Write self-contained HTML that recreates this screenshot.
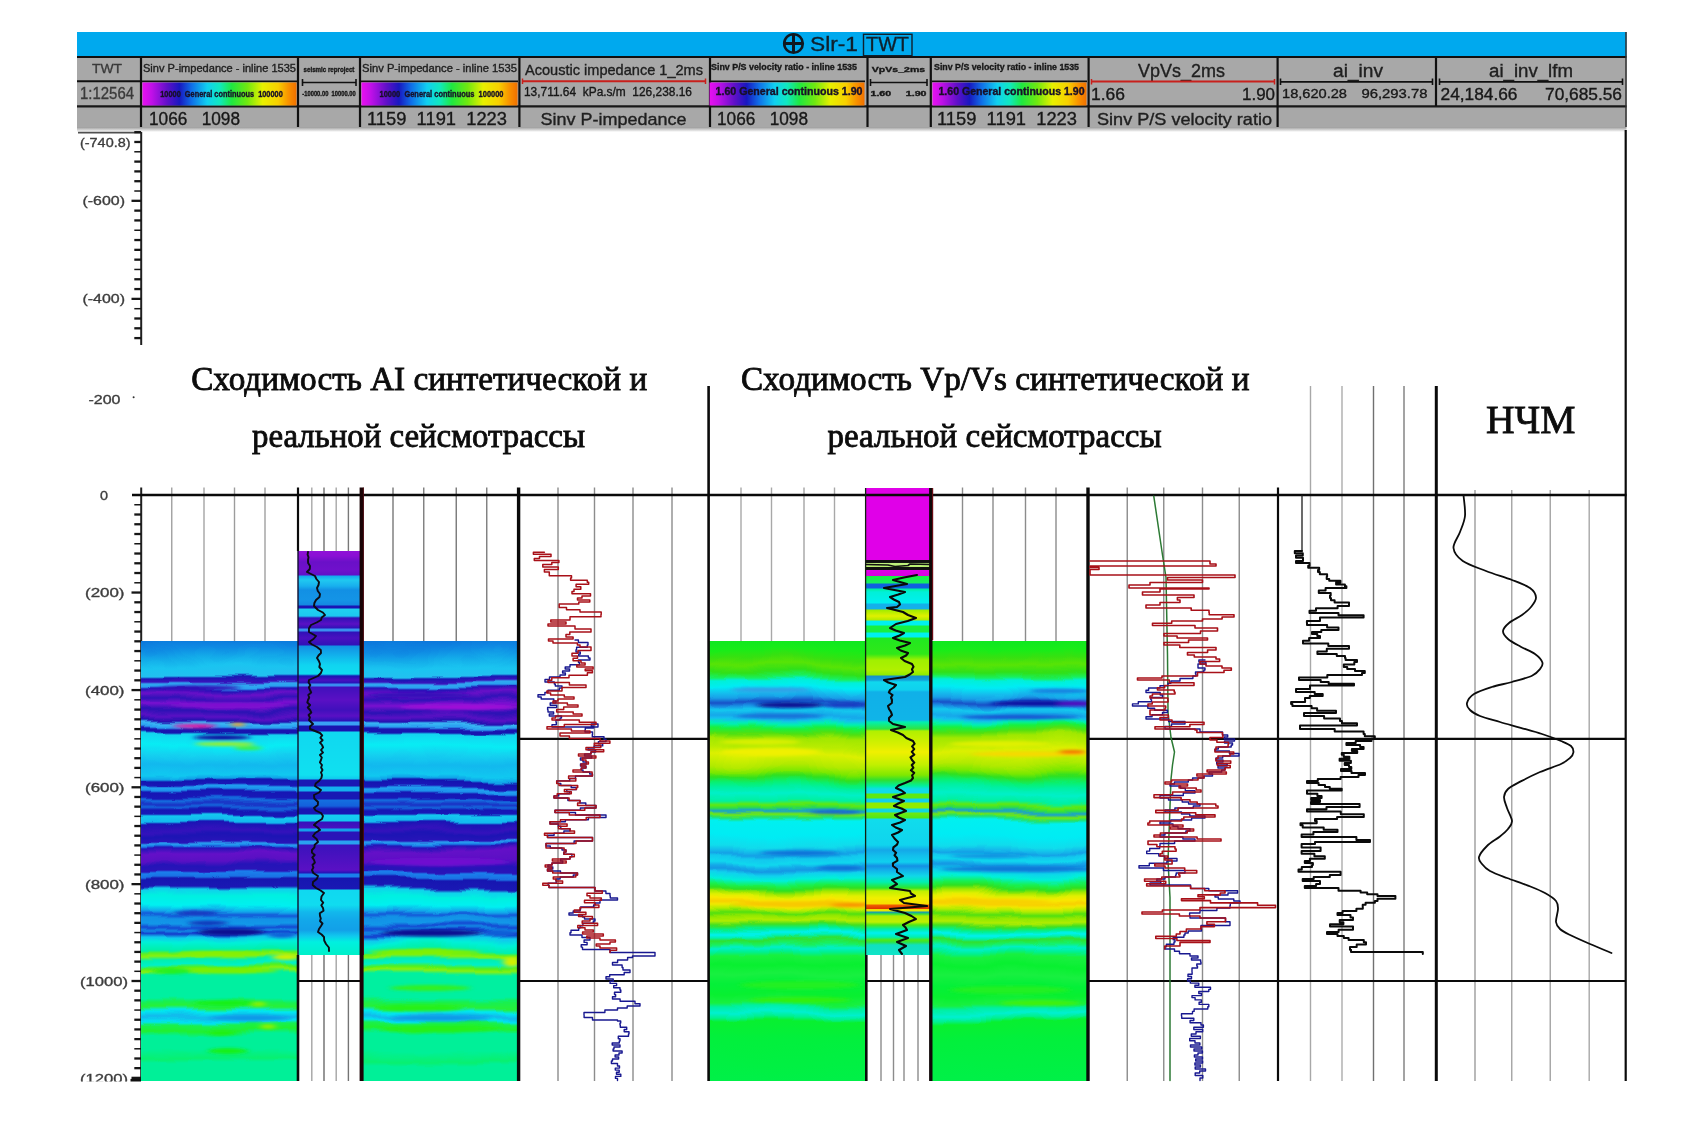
<!DOCTYPE html>
<html lang="ru">
<head>
<meta charset="utf-8">
<title>Slr-1 [TWT]</title>
<style>
html,body{margin:0;padding:0;background:#fff;}
body{width:1707px;height:1139px;overflow:hidden;position:relative;font-family:"Liberation Sans",sans-serif;}
svg{position:absolute;left:0;top:0;display:block;filter:blur(0.45px);}
text{white-space:pre;}
</style>
</head>
<body>
<svg width="1707" height="1139" viewBox="0 0 1707 1139">
<defs>
<linearGradient id="rb" x1="0" y1="0" x2="1" y2="0"><stop offset="0" stop-color="#e810f0"/><stop offset="0.06" stop-color="#c010e8"/><stop offset="0.16" stop-color="#6010c8"/><stop offset="0.24" stop-color="#1818c0"/><stop offset="0.32" stop-color="#1070e8"/><stop offset="0.42" stop-color="#10d0f0"/><stop offset="0.50" stop-color="#10e8c0"/><stop offset="0.58" stop-color="#20e840"/><stop offset="0.68" stop-color="#70e810"/><stop offset="0.78" stop-color="#e8f000"/><stop offset="0.88" stop-color="#f8d000"/><stop offset="0.95" stop-color="#f89000"/><stop offset="1" stop-color="#f07000"/></linearGradient>
<linearGradient id="hsh" x1="0" y1="0" x2="0" y2="1"><stop offset="0" stop-color="#9a9a9a"/><stop offset="1" stop-color="#ffffff"/></linearGradient>
<linearGradient id="gAI" gradientUnits="userSpaceOnUse" x1="0" y1="641" x2="0" y2="1081.0"><stop offset="0.0000" stop-color="#0c78dc"/><stop offset="0.0205" stop-color="#0f8ce4"/><stop offset="0.0432" stop-color="#14aeea"/><stop offset="0.0614" stop-color="#1ac4f0"/><stop offset="0.0795" stop-color="#22c0f0"/><stop offset="0.0841" stop-color="#1818b4"/><stop offset="0.0932" stop-color="#3a12bc"/><stop offset="0.0977" stop-color="#30a8f0"/><stop offset="0.1045" stop-color="#2aa0f0"/><stop offset="0.1091" stop-color="#2414b8"/><stop offset="0.1205" stop-color="#6a10c8"/><stop offset="0.1341" stop-color="#3012b8"/><stop offset="0.1477" stop-color="#7a10d0"/><stop offset="0.1614" stop-color="#2a12b4"/><stop offset="0.1750" stop-color="#5a10c4"/><stop offset="0.1841" stop-color="#2212b0"/><stop offset="0.1886" stop-color="#38b8f4"/><stop offset="0.1955" stop-color="#2a9cf0"/><stop offset="0.2000" stop-color="#1a14b0"/><stop offset="0.2068" stop-color="#1616b0"/><stop offset="0.2114" stop-color="#14d4f0"/><stop offset="0.2364" stop-color="#08ecf4"/><stop offset="0.2591" stop-color="#14d0f0"/><stop offset="0.2818" stop-color="#12b8ee"/><stop offset="0.3045" stop-color="#10c8f0"/><stop offset="0.3136" stop-color="#10a0e8"/><stop offset="0.3182" stop-color="#1414b0"/><stop offset="0.3295" stop-color="#1a18b8"/><stop offset="0.3341" stop-color="#20a0f0"/><stop offset="0.3409" stop-color="#1c90ec"/><stop offset="0.3455" stop-color="#1616b4"/><stop offset="0.3568" stop-color="#1818b8"/><stop offset="0.3614" stop-color="#1470e0"/><stop offset="0.3705" stop-color="#1a30c4"/><stop offset="0.3773" stop-color="#1466dc"/><stop offset="0.3841" stop-color="#1616b4"/><stop offset="0.3932" stop-color="#1818b8"/><stop offset="0.3977" stop-color="#14c8f0"/><stop offset="0.4091" stop-color="#12b8ee"/><stop offset="0.4136" stop-color="#1a14b4"/><stop offset="0.4295" stop-color="#3412bc"/><stop offset="0.4386" stop-color="#1c14b4"/><stop offset="0.4523" stop-color="#2814b8"/><stop offset="0.4568" stop-color="#2aa0f0"/><stop offset="0.4614" stop-color="#1a80e8"/><stop offset="0.4659" stop-color="#2414b8"/><stop offset="0.4795" stop-color="#6410c8"/><stop offset="0.4977" stop-color="#5a10c4"/><stop offset="0.5114" stop-color="#2414b8"/><stop offset="0.5250" stop-color="#2a14b8"/><stop offset="0.5295" stop-color="#1a80ec"/><stop offset="0.5386" stop-color="#1a70e4"/><stop offset="0.5432" stop-color="#1616b0"/><stop offset="0.5614" stop-color="#1a18b4"/><stop offset="0.5682" stop-color="#10d0ec"/><stop offset="0.5818" stop-color="#00f0e0"/><stop offset="0.6000" stop-color="#00f0f0"/><stop offset="0.6136" stop-color="#12a4ea"/><stop offset="0.6205" stop-color="#1458d8"/><stop offset="0.6273" stop-color="#1290e6"/><stop offset="0.6386" stop-color="#1298e8"/><stop offset="0.6477" stop-color="#1448d2"/><stop offset="0.6545" stop-color="#1288e4"/><stop offset="0.6614" stop-color="#1438cc"/><stop offset="0.6705" stop-color="#10c8ee"/><stop offset="0.6841" stop-color="#00f0d8"/><stop offset="0.7023" stop-color="#00f0a8"/><stop offset="0.7091" stop-color="#60f020"/><stop offset="0.7159" stop-color="#88f010"/><stop offset="0.7250" stop-color="#00f0b0"/><stop offset="0.7364" stop-color="#00f0c8"/><stop offset="0.7455" stop-color="#50f020"/><stop offset="0.7523" stop-color="#88f010"/><stop offset="0.7614" stop-color="#00f0a0"/><stop offset="0.7818" stop-color="#00f0a0"/><stop offset="0.8114" stop-color="#00f0a0"/><stop offset="0.8205" stop-color="#18f050"/><stop offset="0.8295" stop-color="#28f038"/><stop offset="0.8386" stop-color="#00e8f0"/><stop offset="0.8500" stop-color="#12b8ec"/><stop offset="0.8591" stop-color="#00e4f0"/><stop offset="0.8659" stop-color="#18f050"/><stop offset="0.8795" stop-color="#20f030"/><stop offset="0.8932" stop-color="#00f098"/><stop offset="0.9295" stop-color="#00f098"/><stop offset="0.9523" stop-color="#08f070"/><stop offset="0.9614" stop-color="#00f098"/><stop offset="1.0000" stop-color="#00f098"/></linearGradient>
<linearGradient id="gVP" gradientUnits="userSpaceOnUse" x1="0" y1="641" x2="0" y2="1081.0"><stop offset="0.0000" stop-color="#10e820"/><stop offset="0.0205" stop-color="#18ec18"/><stop offset="0.0386" stop-color="#38e010"/><stop offset="0.0545" stop-color="#58e406"/><stop offset="0.0705" stop-color="#30e018"/><stop offset="0.0818" stop-color="#18f060"/><stop offset="0.0886" stop-color="#00f0d8"/><stop offset="0.1023" stop-color="#00ecf4"/><stop offset="0.1159" stop-color="#14c0ee"/><stop offset="0.1273" stop-color="#18a0e8"/><stop offset="0.1386" stop-color="#1850c8"/><stop offset="0.1477" stop-color="#1890e4"/><stop offset="0.1568" stop-color="#14c8ee"/><stop offset="0.1705" stop-color="#16a8ea"/><stop offset="0.1773" stop-color="#14c0ee"/><stop offset="0.1864" stop-color="#00f0b0"/><stop offset="0.1955" stop-color="#18f040"/><stop offset="0.2068" stop-color="#50e010"/><stop offset="0.2182" stop-color="#a0e800"/><stop offset="0.2364" stop-color="#b8ec00"/><stop offset="0.2523" stop-color="#dcf000"/><stop offset="0.2659" stop-color="#c8ee00"/><stop offset="0.2818" stop-color="#b0ea00"/><stop offset="0.2977" stop-color="#78e800"/><stop offset="0.3091" stop-color="#30e020"/><stop offset="0.3227" stop-color="#08f070"/><stop offset="0.3341" stop-color="#00f0a0"/><stop offset="0.3500" stop-color="#00f0c8"/><stop offset="0.3659" stop-color="#00f0a0"/><stop offset="0.3750" stop-color="#60e810"/><stop offset="0.3818" stop-color="#30e040"/><stop offset="0.3886" stop-color="#18a0d0"/><stop offset="0.3955" stop-color="#70e810"/><stop offset="0.4023" stop-color="#20e070"/><stop offset="0.4091" stop-color="#00f0f0"/><stop offset="0.4409" stop-color="#00ecf4"/><stop offset="0.4636" stop-color="#10dcec"/><stop offset="0.4750" stop-color="#14b8ea"/><stop offset="0.4818" stop-color="#14a0e6"/><stop offset="0.4886" stop-color="#12c8ee"/><stop offset="0.5000" stop-color="#10d8ee"/><stop offset="0.5091" stop-color="#14a8e8"/><stop offset="0.5159" stop-color="#1498e4"/><stop offset="0.5250" stop-color="#10d0ee"/><stop offset="0.5386" stop-color="#00f0d8"/><stop offset="0.5523" stop-color="#18f050"/><stop offset="0.5614" stop-color="#30e020"/><stop offset="0.5705" stop-color="#a0e800"/><stop offset="0.5795" stop-color="#e0f000"/><stop offset="0.5886" stop-color="#f8e800"/><stop offset="0.5977" stop-color="#f8d000"/><stop offset="0.6045" stop-color="#f0e800"/><stop offset="0.6136" stop-color="#b0ec00"/><stop offset="0.6227" stop-color="#50e010"/><stop offset="0.6295" stop-color="#90e800"/><stop offset="0.6386" stop-color="#b0ec00"/><stop offset="0.6477" stop-color="#40e020"/><stop offset="0.6568" stop-color="#00f090"/><stop offset="0.6659" stop-color="#00f0f0"/><stop offset="0.6727" stop-color="#00f0b0"/><stop offset="0.6795" stop-color="#30e030"/><stop offset="0.6886" stop-color="#18f060"/><stop offset="0.6977" stop-color="#00f0c8"/><stop offset="0.7068" stop-color="#00f090"/><stop offset="0.7159" stop-color="#18f040"/><stop offset="0.7364" stop-color="#08f030"/><stop offset="0.7591" stop-color="#18f040"/><stop offset="0.7818" stop-color="#04f038"/><stop offset="0.8045" stop-color="#08f030"/><stop offset="0.8227" stop-color="#18f040"/><stop offset="0.8318" stop-color="#00f0a0"/><stop offset="0.8455" stop-color="#00f0d0"/><stop offset="0.8568" stop-color="#00f090"/><stop offset="0.8659" stop-color="#08f030"/><stop offset="0.9068" stop-color="#02f03c"/><stop offset="1.0000" stop-color="#00f048"/></linearGradient>
<linearGradient id="gW3" gradientUnits="userSpaceOnUse" x1="0" y1="551" x2="0" y2="955"><stop offset="0.0000" stop-color="#9010d8"/><stop offset="0.0124" stop-color="#8a10d4"/><stop offset="0.0272" stop-color="#6a10c8"/><stop offset="0.0470" stop-color="#7010cc"/><stop offset="0.0594" stop-color="#6010c8"/><stop offset="0.0619" stop-color="#14a8ee"/><stop offset="0.0718" stop-color="#20c8f0"/><stop offset="0.0866" stop-color="#18b0ee"/><stop offset="0.0965" stop-color="#1290e4"/><stop offset="0.1213" stop-color="#1494e6"/><stop offset="0.1337" stop-color="#1488e2"/><stop offset="0.1361" stop-color="#1a14b4"/><stop offset="0.1411" stop-color="#1a14b4"/><stop offset="0.1436" stop-color="#20d0f0"/><stop offset="0.1609" stop-color="#1cc8f0"/><stop offset="0.1658" stop-color="#3012b8"/><stop offset="0.1807" stop-color="#5a10c4"/><stop offset="0.1906" stop-color="#3012b8"/><stop offset="0.1931" stop-color="#3a90f0"/><stop offset="0.1980" stop-color="#3a90f0"/><stop offset="0.2005" stop-color="#3012b8"/><stop offset="0.2153" stop-color="#4a10c0"/><stop offset="0.2327" stop-color="#3012b8"/><stop offset="0.2351" stop-color="#1290e4"/><stop offset="0.2574" stop-color="#12b0ec"/><stop offset="0.2822" stop-color="#10d4f0"/><stop offset="0.3045" stop-color="#10dcf0"/><stop offset="0.3094" stop-color="#1a14b4"/><stop offset="0.3193" stop-color="#4a10c0"/><stop offset="0.3267" stop-color="#2a12b8"/><stop offset="0.3292" stop-color="#3a8cf0"/><stop offset="0.3342" stop-color="#3a8cf0"/><stop offset="0.3366" stop-color="#4010bc"/><stop offset="0.3688" stop-color="#5a10c4"/><stop offset="0.3936" stop-color="#4010bc"/><stop offset="0.4084" stop-color="#5a10c4"/><stop offset="0.4208" stop-color="#2a12b8"/><stop offset="0.4233" stop-color="#3aa0f4"/><stop offset="0.4307" stop-color="#3aa0f4"/><stop offset="0.4332" stop-color="#1a14b0"/><stop offset="0.4455" stop-color="#1a14b0"/><stop offset="0.4480" stop-color="#10d8f0"/><stop offset="0.5545" stop-color="#10e0f0"/><stop offset="0.5644" stop-color="#10c8ee"/><stop offset="0.5668" stop-color="#1a18b4"/><stop offset="0.5817" stop-color="#1a18b4"/><stop offset="0.5842" stop-color="#14b0ee"/><stop offset="0.5941" stop-color="#14b0ee"/><stop offset="0.5965" stop-color="#1818b4"/><stop offset="0.6139" stop-color="#1818b4"/><stop offset="0.6163" stop-color="#1470e0"/><stop offset="0.6312" stop-color="#1460dc"/><stop offset="0.6386" stop-color="#1818b4"/><stop offset="0.6510" stop-color="#1818b4"/><stop offset="0.6535" stop-color="#14d0f0"/><stop offset="0.6683" stop-color="#14c8f0"/><stop offset="0.6708" stop-color="#3412bc"/><stop offset="0.6856" stop-color="#4a10c0"/><stop offset="0.6881" stop-color="#14a0ec"/><stop offset="0.6931" stop-color="#14a0ec"/><stop offset="0.6955" stop-color="#2a14b8"/><stop offset="0.7153" stop-color="#2a14b8"/><stop offset="0.7178" stop-color="#2aa0f0"/><stop offset="0.7252" stop-color="#2aa0f0"/><stop offset="0.7277" stop-color="#3a12bc"/><stop offset="0.7896" stop-color="#5a10c4"/><stop offset="0.7970" stop-color="#2414b8"/><stop offset="0.7995" stop-color="#1a80ec"/><stop offset="0.8069" stop-color="#1a80ec"/><stop offset="0.8094" stop-color="#1616b0"/><stop offset="0.8366" stop-color="#1a18b4"/><stop offset="0.8391" stop-color="#10d8f0"/><stop offset="0.8762" stop-color="#10dcf0"/><stop offset="0.8936" stop-color="#12b8ec"/><stop offset="0.9134" stop-color="#12a8ea"/><stop offset="0.9381" stop-color="#12a0e8"/><stop offset="0.9530" stop-color="#10c8ee"/><stop offset="0.9678" stop-color="#00f0e0"/><stop offset="1.0000" stop-color="#00f0c8"/></linearGradient>
<linearGradient id="gW7" gradientUnits="userSpaceOnUse" x1="0" y1="488" x2="0" y2="955"><stop offset="0.0000" stop-color="#e000e8"/><stop offset="0.1542" stop-color="#e000e8"/><stop offset="0.1552" stop-color="#101010"/><stop offset="0.1595" stop-color="#101010"/><stop offset="0.1606" stop-color="#c0f080"/><stop offset="0.1681" stop-color="#b8f070"/><stop offset="0.1692" stop-color="#101010"/><stop offset="0.1745" stop-color="#101010"/><stop offset="0.1756" stop-color="#e000e8"/><stop offset="0.1874" stop-color="#d800e0"/><stop offset="0.1884" stop-color="#18f040"/><stop offset="0.2034" stop-color="#18f060"/><stop offset="0.2056" stop-color="#1060e0"/><stop offset="0.2141" stop-color="#1060e0"/><stop offset="0.2163" stop-color="#00f0a0"/><stop offset="0.2227" stop-color="#00f0d8"/><stop offset="0.2463" stop-color="#00f0f0"/><stop offset="0.2484" stop-color="#14b0ea"/><stop offset="0.2591" stop-color="#14b0ea"/><stop offset="0.2612" stop-color="#a0ec00"/><stop offset="0.2741" stop-color="#e0f000"/><stop offset="0.2827" stop-color="#b0ec00"/><stop offset="0.2848" stop-color="#00f0f0"/><stop offset="0.2934" stop-color="#00f0f0"/><stop offset="0.2955" stop-color="#18f040"/><stop offset="0.3084" stop-color="#18f040"/><stop offset="0.3105" stop-color="#00f0f0"/><stop offset="0.3191" stop-color="#00f0f0"/><stop offset="0.3212" stop-color="#20e820"/><stop offset="0.3555" stop-color="#30e818"/><stop offset="0.3683" stop-color="#a0f000"/><stop offset="0.3897" stop-color="#b0f000"/><stop offset="0.4004" stop-color="#90ec00"/><stop offset="0.4026" stop-color="#1490c8"/><stop offset="0.4111" stop-color="#14a0d8"/><stop offset="0.4154" stop-color="#10d8ee"/><stop offset="0.4325" stop-color="#10d0ee"/><stop offset="0.4368" stop-color="#10b0e8"/><stop offset="0.4968" stop-color="#10b4e8"/><stop offset="0.5011" stop-color="#00f0b0"/><stop offset="0.5161" stop-color="#30e440"/><stop offset="0.5203" stop-color="#b0f000"/><stop offset="0.5503" stop-color="#d8f000"/><stop offset="0.5653" stop-color="#f0f000"/><stop offset="0.5931" stop-color="#c0f000"/><stop offset="0.6146" stop-color="#80e800"/><stop offset="0.6253" stop-color="#30e030"/><stop offset="0.6381" stop-color="#00f0a0"/><stop offset="0.6445" stop-color="#10dce8"/><stop offset="0.6531" stop-color="#10dce8"/><stop offset="0.6552" stop-color="#60e810"/><stop offset="0.6638" stop-color="#60e810"/><stop offset="0.6660" stop-color="#10d0ee"/><stop offset="0.6724" stop-color="#10d0ee"/><stop offset="0.6745" stop-color="#90ec00"/><stop offset="0.6852" stop-color="#90ec00"/><stop offset="0.6874" stop-color="#10d8e0"/><stop offset="0.6938" stop-color="#10d8e0"/><stop offset="0.6959" stop-color="#70e810"/><stop offset="0.7066" stop-color="#50e818"/><stop offset="0.7088" stop-color="#10dcec"/><stop offset="0.7645" stop-color="#10d4ee"/><stop offset="0.7752" stop-color="#14a8e8"/><stop offset="0.7880" stop-color="#12c0ec"/><stop offset="0.8009" stop-color="#10d0ee"/><stop offset="0.8094" stop-color="#1490e4"/><stop offset="0.8180" stop-color="#12b0ea"/><stop offset="0.8308" stop-color="#10d8e8"/><stop offset="0.8437" stop-color="#00f0b0"/><stop offset="0.8565" stop-color="#30e428"/><stop offset="0.8630" stop-color="#c0f000"/><stop offset="0.8779" stop-color="#f0f000"/><stop offset="0.8908" stop-color="#f8e000"/><stop offset="0.8929" stop-color="#f06000"/><stop offset="0.9004" stop-color="#e03800"/><stop offset="0.9026" stop-color="#f0e000"/><stop offset="0.9058" stop-color="#e0f000"/><stop offset="0.9079" stop-color="#1890c0"/><stop offset="0.9122" stop-color="#30e040"/><stop offset="0.9165" stop-color="#b0ec00"/><stop offset="0.9293" stop-color="#c0f000"/><stop offset="0.9358" stop-color="#50e818"/><stop offset="0.9443" stop-color="#00f0a0"/><stop offset="0.9529" stop-color="#00f0f0"/><stop offset="0.9615" stop-color="#00f0b0"/><stop offset="0.9679" stop-color="#50e818"/><stop offset="0.9722" stop-color="#30e440"/><stop offset="0.9786" stop-color="#10e0c0"/><stop offset="1.0000" stop-color="#10e4c8"/></linearGradient>
<filter id="wv1" x="-5%" y="-5%" width="110%" height="110%" color-interpolation-filters="sRGB"><feTurbulence type="fractalNoise" baseFrequency="0.013 0.022" numOctaves="3" seed="3" result="n"/><feColorMatrix in="n" type="matrix" values="0 0 0 0 0.5  0 1 0 0 0  0 0 1 0 0  0 0 0 0 1" result="m"/><feDisplacementMap in="SourceGraphic" in2="m" scale="14" xChannelSelector="R" yChannelSelector="G"/><feGaussianBlur stdDeviation="0.7 0.5"/></filter>
<filter id="wv2" x="-5%" y="-5%" width="110%" height="110%" color-interpolation-filters="sRGB"><feTurbulence type="fractalNoise" baseFrequency="0.011 0.018" numOctaves="3" seed="8" result="n"/><feColorMatrix in="n" type="matrix" values="0 0 0 0 0.5  0 1 0 0 0  0 0 1 0 0  0 0 0 0 1" result="m"/><feDisplacementMap in="SourceGraphic" in2="m" scale="15" xChannelSelector="R" yChannelSelector="G"/><feGaussianBlur stdDeviation="0.7 0.5"/></filter>
<filter id="lb" x="-30%" y="-200%" width="160%" height="500%"><feGaussianBlur stdDeviation="3.2 1.5"/></filter>
<clipPath id="cA1"><rect x="141" y="641" width="157" height="440.0"/></clipPath>
<clipPath id="cA2"><rect x="362" y="641" width="156" height="440.0"/></clipPath>
<clipPath id="cV1"><rect x="709" y="641" width="157" height="440.0"/></clipPath>
<clipPath id="cV2"><rect x="932" y="641" width="155" height="440.0"/></clipPath>
</defs>
<rect x="77.00" y="32.00" width="1549.50" height="24.50" fill="#00a9ee" />
<line x1="77.00" y1="57.00" x2="1626.50" y2="57.00" stroke="#101010" stroke-width="2" />
<rect x="77.00" y="58.00" width="1549.50" height="69.00" fill="#a8a8a8" />
<rect x="77.00" y="127.00" width="1549.50" height="5.00" fill="url(#hsh)" />
<g stroke="#101820" fill="none"><circle cx="793.5" cy="43.5" r="9.3" stroke-width="2.6"/><line x1="784" y1="43.5" x2="803" y2="43.5" stroke-width="3"/><line x1="793.5" y1="34" x2="793.5" y2="53" stroke-width="3"/></g>
<text x="810.00" y="51.00" font-family="'Liberation Sans', sans-serif" font-size="21" fill="#10202c" text-anchor="start" font-weight="normal" style="white-space:pre" textLength="48.0" lengthAdjust="spacingAndGlyphs"  stroke="#10202c" stroke-width="0.35">Slr-1</text>
<rect x="863.50" y="34.30" width="48.50" height="21.40" fill="none" stroke="#10202c" stroke-width="1.4"/>
<text x="866.00" y="50.80" font-family="'Liberation Sans', sans-serif" font-size="19.5" fill="#10202c" text-anchor="start" font-weight="normal" style="white-space:pre" textLength="43.0" lengthAdjust="spacingAndGlyphs"  stroke="#10202c" stroke-width="0.35">TWT</text>
<line x1="77.00" y1="81.30" x2="141.00" y2="81.30" stroke="#101010" stroke-width="2" />
<line x1="77.00" y1="106.30" x2="1626.50" y2="106.30" stroke="#181818" stroke-width="2.2" />
<line x1="141.00" y1="58.00" x2="141.00" y2="127.00" stroke="#101010" stroke-width="2.2" />
<line x1="298.00" y1="58.00" x2="298.00" y2="127.00" stroke="#101010" stroke-width="2.2" />
<line x1="360.00" y1="58.00" x2="360.00" y2="127.00" stroke="#101010" stroke-width="2.2" />
<line x1="519.40" y1="58.00" x2="519.40" y2="127.00" stroke="#101010" stroke-width="2.2" />
<line x1="710.00" y1="58.00" x2="710.00" y2="127.00" stroke="#101010" stroke-width="2.2" />
<line x1="867.50" y1="58.00" x2="867.50" y2="127.00" stroke="#101010" stroke-width="2.2" />
<line x1="930.80" y1="58.00" x2="930.80" y2="127.00" stroke="#101010" stroke-width="2.2" />
<line x1="1088.60" y1="58.00" x2="1088.60" y2="127.00" stroke="#101010" stroke-width="2.2" />
<line x1="1277.60" y1="58.00" x2="1277.60" y2="127.00" stroke="#101010" stroke-width="2.2" />
<line x1="1436.00" y1="58.00" x2="1436.00" y2="106.00" stroke="#101010" stroke-width="2.2" />
<line x1="1626.00" y1="32.00" x2="1626.00" y2="127.00" stroke="#303030" stroke-width="1.5" />
<text x="107.00" y="73.20" font-family="'Liberation Sans', sans-serif" font-size="13.5" fill="#3a3a3a" text-anchor="middle" font-weight="normal" style="white-space:pre" textLength="30.0" lengthAdjust="spacingAndGlyphs"  stroke="#3a3a3a" stroke-width="0.35">TWT</text>
<text x="107.00" y="99.20" font-family="'Liberation Sans', sans-serif" font-size="16" fill="#3a3a3a" text-anchor="middle" font-weight="normal" style="white-space:pre" textLength="54.0" lengthAdjust="spacingAndGlyphs"  stroke="#3a3a3a" stroke-width="0.35">1:12564</text>
<text x="143.00" y="71.60" font-family="'Liberation Sans', sans-serif" font-size="10.8" fill="#202020" text-anchor="start" font-weight="normal" style="white-space:pre" textLength="153.0" lengthAdjust="spacingAndGlyphs"  stroke="#202020" stroke-width="0.35">Sinv P-impedance - inline 1535</text>
<line x1="142.00" y1="81.30" x2="297.00" y2="81.30" stroke="#101010" stroke-width="1.8" />
<rect x="142.50" y="82.50" width="154.00" height="23.00" fill="url(#rb)" />
<text x="221.50" y="96.50" font-family="'Liberation Sans', sans-serif" font-size="8.5" fill="#181028" text-anchor="middle" font-weight="bold" style="white-space:pre" textLength="122.5" lengthAdjust="spacingAndGlyphs"  stroke="#181028" stroke-width="0.35">10000  General continuous  100000</text>
<text x="362.00" y="71.60" font-family="'Liberation Sans', sans-serif" font-size="10.8" fill="#202020" text-anchor="start" font-weight="normal" style="white-space:pre" textLength="155.0" lengthAdjust="spacingAndGlyphs"  stroke="#202020" stroke-width="0.35">Sinv P-impedance - inline 1535</text>
<line x1="361.00" y1="81.30" x2="518.00" y2="81.30" stroke="#101010" stroke-width="1.8" />
<rect x="361.50" y="82.50" width="156.00" height="23.00" fill="url(#rb)" />
<text x="441.50" y="96.50" font-family="'Liberation Sans', sans-serif" font-size="8.5" fill="#181028" text-anchor="middle" font-weight="bold" style="white-space:pre" textLength="124.0" lengthAdjust="spacingAndGlyphs"  stroke="#181028" stroke-width="0.35">10000  General continuous  100000</text>
<text x="149.00" y="124.50" font-family="'Liberation Sans', sans-serif" font-size="18" fill="#181818" text-anchor="start" font-weight="normal" style="white-space:pre" textLength="91.0" lengthAdjust="spacingAndGlyphs"  stroke="#181818" stroke-width="0.35">1066   1098</text>
<text x="367.00" y="124.50" font-family="'Liberation Sans', sans-serif" font-size="18" fill="#181818" text-anchor="start" font-weight="normal" style="white-space:pre" textLength="140.0" lengthAdjust="spacingAndGlyphs"  stroke="#181818" stroke-width="0.35">1159  1191  1223</text>
<text x="329.00" y="72.00" font-family="'Liberation Sans', sans-serif" font-size="7.5" fill="#181818" text-anchor="middle" font-weight="bold" style="white-space:pre" textLength="50.8" lengthAdjust="spacingAndGlyphs"  stroke="#181818" stroke-width="0.35">seismic reproject</text>
<line x1="302.50" y1="82.50" x2="356.00" y2="82.50" stroke="#101010" stroke-width="1.6" />
<line x1="302.50" y1="79.00" x2="302.50" y2="86.00" stroke="#101010" stroke-width="1.6" />
<line x1="356.00" y1="79.00" x2="356.00" y2="86.00" stroke="#101010" stroke-width="1.6" />
<text x="329.00" y="95.50" font-family="'Liberation Sans', sans-serif" font-size="7" fill="#181818" text-anchor="middle" font-weight="bold" style="white-space:pre" textLength="53.3" lengthAdjust="spacingAndGlyphs"  stroke="#181818" stroke-width="0.35">-10000.00  10000.00</text>
<text x="898.50" y="72.00" font-family="'Liberation Sans', sans-serif" font-size="7.5" fill="#181818" text-anchor="middle" font-weight="bold" style="white-space:pre" textLength="53.3" lengthAdjust="spacingAndGlyphs"  stroke="#181818" stroke-width="0.35">VpVs_2ms</text>
<line x1="870.50" y1="82.50" x2="927.00" y2="82.50" stroke="#101010" stroke-width="1.6" />
<line x1="870.50" y1="79.00" x2="870.50" y2="86.00" stroke="#101010" stroke-width="1.6" />
<line x1="927.00" y1="79.00" x2="927.00" y2="86.00" stroke="#101010" stroke-width="1.6" />
<text x="898.50" y="95.50" font-family="'Liberation Sans', sans-serif" font-size="7" fill="#181818" text-anchor="middle" font-weight="bold" style="white-space:pre" textLength="55.9" lengthAdjust="spacingAndGlyphs"  stroke="#181818" stroke-width="0.35">1.60     1.90</text>
<text x="614.00" y="74.60" font-family="'Liberation Sans', sans-serif" font-size="15" fill="#202020" text-anchor="middle" font-weight="normal" style="white-space:pre" textLength="178.0" lengthAdjust="spacingAndGlyphs"  stroke="#202020" stroke-width="0.35">Acoustic impedance 1_2ms</text>
<line x1="522.00" y1="81.20" x2="706.00" y2="81.20" stroke="#c8201c" stroke-width="2" />
<line x1="522.50" y1="78.50" x2="522.50" y2="84.00" stroke="#c8201c" stroke-width="1.5" />
<line x1="705.50" y1="78.50" x2="705.50" y2="84.00" stroke="#c8201c" stroke-width="1.5" />
<text x="524.00" y="96.20" font-family="'Liberation Sans', sans-serif" font-size="12.5" fill="#181818" text-anchor="start" font-weight="normal" style="white-space:pre" textLength="168.0" lengthAdjust="spacingAndGlyphs"  stroke="#181818" stroke-width="0.35">13,711.64  kPa.s/m  126,238.16</text>
<text x="613.50" y="124.50" font-family="'Liberation Sans', sans-serif" font-size="17" fill="#202020" text-anchor="middle" font-weight="normal" style="white-space:pre" textLength="146.0" lengthAdjust="spacingAndGlyphs"  stroke="#202020" stroke-width="0.35">Sinv P-impedance</text>
<text x="711.00" y="69.80" font-family="'Liberation Sans', sans-serif" font-size="9" fill="#181818" text-anchor="start" font-weight="bold" style="white-space:pre" textLength="146.0" lengthAdjust="spacingAndGlyphs"  stroke="#181818" stroke-width="0.35">Sinv P/S velocity ratio - inline 1535</text>
<line x1="709.00" y1="81.30" x2="865.00" y2="81.30" stroke="#101010" stroke-width="1.8" />
<rect x="709.50" y="82.50" width="155.00" height="23.00" fill="url(#rb)" />
<text x="789.00" y="95.00" font-family="'Liberation Sans', sans-serif" font-size="10" fill="#181028" text-anchor="middle" font-weight="bold" style="white-space:pre" textLength="146.9" lengthAdjust="spacingAndGlyphs"  stroke="#181028" stroke-width="0.35">1.60 General continuous 1.90</text>
<text x="934.00" y="69.80" font-family="'Liberation Sans', sans-serif" font-size="9" fill="#181818" text-anchor="start" font-weight="bold" style="white-space:pre" textLength="145.0" lengthAdjust="spacingAndGlyphs"  stroke="#181818" stroke-width="0.35">Sinv P/S velocity ratio - inline 1535</text>
<line x1="932.00" y1="81.30" x2="1087.00" y2="81.30" stroke="#101010" stroke-width="1.8" />
<rect x="932.50" y="82.50" width="154.00" height="23.00" fill="url(#rb)" />
<text x="1011.50" y="95.00" font-family="'Liberation Sans', sans-serif" font-size="10" fill="#181028" text-anchor="middle" font-weight="bold" style="white-space:pre" textLength="146.0" lengthAdjust="spacingAndGlyphs"  stroke="#181028" stroke-width="0.35">1.60 General continuous 1.90</text>
<text x="717.00" y="124.50" font-family="'Liberation Sans', sans-serif" font-size="18" fill="#181818" text-anchor="start" font-weight="normal" style="white-space:pre" textLength="91.0" lengthAdjust="spacingAndGlyphs"  stroke="#181818" stroke-width="0.35">1066   1098</text>
<text x="937.00" y="124.50" font-family="'Liberation Sans', sans-serif" font-size="18" fill="#181818" text-anchor="start" font-weight="normal" style="white-space:pre" textLength="140.0" lengthAdjust="spacingAndGlyphs"  stroke="#181818" stroke-width="0.35">1159  1191  1223</text>
<text x="1181.50" y="77.00" font-family="'Liberation Sans', sans-serif" font-size="18" fill="#202020" text-anchor="middle" font-weight="normal" style="white-space:pre" textLength="87.0" lengthAdjust="spacingAndGlyphs"  stroke="#202020" stroke-width="0.35">VpVs_2ms</text>
<line x1="1091.00" y1="81.50" x2="1275.00" y2="81.50" stroke="#c8201c" stroke-width="2" />
<line x1="1091.50" y1="79.00" x2="1091.50" y2="84.50" stroke="#c8201c" stroke-width="1.5" />
<line x1="1274.50" y1="79.00" x2="1274.50" y2="84.50" stroke="#c8201c" stroke-width="1.5" />
<text x="1091.00" y="99.80" font-family="'Liberation Sans', sans-serif" font-size="17" fill="#181818" text-anchor="start" font-weight="normal" style="white-space:pre" textLength="34.0" lengthAdjust="spacingAndGlyphs"  stroke="#181818" stroke-width="0.35">1.66</text>
<text x="1275.00" y="99.80" font-family="'Liberation Sans', sans-serif" font-size="17" fill="#181818" text-anchor="end" font-weight="normal" style="white-space:pre" textLength="33.0" lengthAdjust="spacingAndGlyphs"  stroke="#181818" stroke-width="0.35">1.90</text>
<text x="1097.00" y="124.50" font-family="'Liberation Sans', sans-serif" font-size="16.5" fill="#202020" text-anchor="start" font-weight="normal" style="white-space:pre" textLength="175.0" lengthAdjust="spacingAndGlyphs"  stroke="#202020" stroke-width="0.35">Sinv P/S velocity ratio</text>
<text x="1358.00" y="77.00" font-family="'Liberation Sans', sans-serif" font-size="18" fill="#202020" text-anchor="middle" font-weight="normal" style="white-space:pre" textLength="50.0" lengthAdjust="spacingAndGlyphs"  stroke="#202020" stroke-width="0.35">ai_inv</text>
<line x1="1280.00" y1="81.80" x2="1433.00" y2="81.80" stroke="#101010" stroke-width="1.8" />
<line x1="1280.50" y1="78.50" x2="1280.50" y2="85.00" stroke="#101010" stroke-width="1.6" />
<line x1="1432.50" y1="78.50" x2="1432.50" y2="85.00" stroke="#101010" stroke-width="1.6" />
<text x="1282.00" y="98.30" font-family="'Liberation Sans', sans-serif" font-size="13.5" fill="#181818" text-anchor="start" font-weight="normal" style="white-space:pre" textLength="65.0" lengthAdjust="spacingAndGlyphs"  stroke="#181818" stroke-width="0.35">18,620.28</text>
<text x="1427.50" y="98.30" font-family="'Liberation Sans', sans-serif" font-size="13.5" fill="#181818" text-anchor="end" font-weight="normal" style="white-space:pre" textLength="66.0" lengthAdjust="spacingAndGlyphs"  stroke="#181818" stroke-width="0.35">96,293.78</text>
<text x="1531.00" y="77.00" font-family="'Liberation Sans', sans-serif" font-size="18" fill="#202020" text-anchor="middle" font-weight="normal" style="white-space:pre" textLength="84.0" lengthAdjust="spacingAndGlyphs"  stroke="#202020" stroke-width="0.35">ai_inv_lfm</text>
<line x1="1439.00" y1="81.80" x2="1623.00" y2="81.80" stroke="#101010" stroke-width="1.8" />
<line x1="1439.50" y1="78.50" x2="1439.50" y2="85.00" stroke="#101010" stroke-width="1.6" />
<line x1="1622.50" y1="78.50" x2="1622.50" y2="85.00" stroke="#101010" stroke-width="1.6" />
<text x="1440.50" y="99.80" font-family="'Liberation Sans', sans-serif" font-size="16" fill="#181818" text-anchor="start" font-weight="normal" style="white-space:pre" textLength="77.0" lengthAdjust="spacingAndGlyphs"  stroke="#181818" stroke-width="0.35">24,184.66</text>
<text x="1622.00" y="99.80" font-family="'Liberation Sans', sans-serif" font-size="16" fill="#181818" text-anchor="end" font-weight="normal" style="white-space:pre" textLength="77.0" lengthAdjust="spacingAndGlyphs"  stroke="#181818" stroke-width="0.35">70,685.56</text>
<line x1="78.00" y1="132.60" x2="141.50" y2="132.60" stroke="#505050" stroke-width="1.6" />
<line x1="141.20" y1="132.00" x2="141.20" y2="345.00" stroke="#202020" stroke-width="2" />
<line x1="141.20" y1="487.50" x2="141.20" y2="1081.00" stroke="#202020" stroke-width="2" />
<line x1="134.30" y1="132.18" x2="141.00" y2="132.18" stroke="#161616" stroke-width="2.3" />
<line x1="134.30" y1="141.98" x2="141.00" y2="141.98" stroke="#161616" stroke-width="2.3" />
<line x1="134.30" y1="151.79" x2="141.00" y2="151.79" stroke="#161616" stroke-width="1.5" />
<line x1="134.30" y1="161.60" x2="141.00" y2="161.60" stroke="#161616" stroke-width="2.3" />
<line x1="134.30" y1="171.40" x2="141.00" y2="171.40" stroke="#161616" stroke-width="2.3" />
<line x1="134.30" y1="181.21" x2="141.00" y2="181.21" stroke="#161616" stroke-width="2.3" />
<line x1="134.30" y1="191.01" x2="141.00" y2="191.01" stroke="#161616" stroke-width="1.5" />
<line x1="131.50" y1="200.82" x2="141.00" y2="200.82" stroke="#161616" stroke-width="2.3" />
<line x1="134.30" y1="210.63" x2="141.00" y2="210.63" stroke="#161616" stroke-width="2.3" />
<line x1="134.30" y1="220.43" x2="141.00" y2="220.43" stroke="#161616" stroke-width="2.3" />
<line x1="134.30" y1="230.24" x2="141.00" y2="230.24" stroke="#161616" stroke-width="1.5" />
<line x1="134.30" y1="240.04" x2="141.00" y2="240.04" stroke="#161616" stroke-width="2.3" />
<line x1="134.30" y1="249.85" x2="141.00" y2="249.85" stroke="#161616" stroke-width="2.3" />
<line x1="134.30" y1="259.66" x2="141.00" y2="259.66" stroke="#161616" stroke-width="2.3" />
<line x1="134.30" y1="269.46" x2="141.00" y2="269.46" stroke="#161616" stroke-width="1.5" />
<line x1="134.30" y1="279.27" x2="141.00" y2="279.27" stroke="#161616" stroke-width="2.3" />
<line x1="134.30" y1="289.07" x2="141.00" y2="289.07" stroke="#161616" stroke-width="2.3" />
<line x1="131.50" y1="298.88" x2="141.00" y2="298.88" stroke="#161616" stroke-width="2.3" />
<line x1="134.30" y1="308.69" x2="141.00" y2="308.69" stroke="#161616" stroke-width="1.5" />
<line x1="134.30" y1="318.49" x2="141.00" y2="318.49" stroke="#161616" stroke-width="2.3" />
<line x1="134.30" y1="328.30" x2="141.00" y2="328.30" stroke="#161616" stroke-width="2.3" />
<line x1="134.30" y1="338.10" x2="141.00" y2="338.10" stroke="#161616" stroke-width="2.3" />
<line x1="134.30" y1="504.75" x2="141.00" y2="504.75" stroke="#161616" stroke-width="1.5" />
<line x1="134.30" y1="514.51" x2="141.00" y2="514.51" stroke="#161616" stroke-width="2.3" />
<line x1="134.30" y1="524.26" x2="141.00" y2="524.26" stroke="#161616" stroke-width="2.3" />
<line x1="134.30" y1="534.02" x2="141.00" y2="534.02" stroke="#161616" stroke-width="2.3" />
<line x1="134.30" y1="543.77" x2="141.00" y2="543.77" stroke="#161616" stroke-width="1.5" />
<line x1="134.30" y1="553.52" x2="141.00" y2="553.52" stroke="#161616" stroke-width="2.3" />
<line x1="134.30" y1="563.28" x2="141.00" y2="563.28" stroke="#161616" stroke-width="2.3" />
<line x1="134.30" y1="573.03" x2="141.00" y2="573.03" stroke="#161616" stroke-width="2.3" />
<line x1="134.30" y1="582.79" x2="141.00" y2="582.79" stroke="#161616" stroke-width="1.5" />
<line x1="131.50" y1="592.54" x2="141.00" y2="592.54" stroke="#161616" stroke-width="2.3" />
<line x1="134.30" y1="602.29" x2="141.00" y2="602.29" stroke="#161616" stroke-width="2.3" />
<line x1="134.30" y1="612.05" x2="141.00" y2="612.05" stroke="#161616" stroke-width="2.3" />
<line x1="134.30" y1="621.80" x2="141.00" y2="621.80" stroke="#161616" stroke-width="1.5" />
<line x1="134.30" y1="631.56" x2="141.00" y2="631.56" stroke="#161616" stroke-width="2.3" />
<line x1="134.30" y1="641.31" x2="141.00" y2="641.31" stroke="#161616" stroke-width="2.3" />
<line x1="134.30" y1="651.06" x2="141.00" y2="651.06" stroke="#161616" stroke-width="2.3" />
<line x1="134.30" y1="660.82" x2="141.00" y2="660.82" stroke="#161616" stroke-width="1.5" />
<line x1="134.30" y1="670.57" x2="141.00" y2="670.57" stroke="#161616" stroke-width="2.3" />
<line x1="134.30" y1="680.33" x2="141.00" y2="680.33" stroke="#161616" stroke-width="2.3" />
<line x1="131.50" y1="690.08" x2="141.00" y2="690.08" stroke="#161616" stroke-width="2.3" />
<line x1="134.30" y1="699.83" x2="141.00" y2="699.83" stroke="#161616" stroke-width="1.5" />
<line x1="134.30" y1="709.59" x2="141.00" y2="709.59" stroke="#161616" stroke-width="2.3" />
<line x1="134.30" y1="719.34" x2="141.00" y2="719.34" stroke="#161616" stroke-width="2.3" />
<line x1="134.30" y1="729.10" x2="141.00" y2="729.10" stroke="#161616" stroke-width="2.3" />
<line x1="134.30" y1="738.85" x2="141.00" y2="738.85" stroke="#161616" stroke-width="1.5" />
<line x1="134.30" y1="748.54" x2="141.00" y2="748.54" stroke="#161616" stroke-width="2.3" />
<line x1="134.30" y1="758.22" x2="141.00" y2="758.22" stroke="#161616" stroke-width="2.3" />
<line x1="134.30" y1="767.91" x2="141.00" y2="767.91" stroke="#161616" stroke-width="2.3" />
<line x1="134.30" y1="777.59" x2="141.00" y2="777.59" stroke="#161616" stroke-width="1.5" />
<line x1="131.50" y1="787.28" x2="141.00" y2="787.28" stroke="#161616" stroke-width="2.3" />
<line x1="134.30" y1="796.97" x2="141.00" y2="796.97" stroke="#161616" stroke-width="2.3" />
<line x1="134.30" y1="806.65" x2="141.00" y2="806.65" stroke="#161616" stroke-width="2.3" />
<line x1="134.30" y1="816.34" x2="141.00" y2="816.34" stroke="#161616" stroke-width="1.5" />
<line x1="134.30" y1="826.02" x2="141.00" y2="826.02" stroke="#161616" stroke-width="2.3" />
<line x1="134.30" y1="835.71" x2="141.00" y2="835.71" stroke="#161616" stroke-width="2.3" />
<line x1="134.30" y1="845.40" x2="141.00" y2="845.40" stroke="#161616" stroke-width="2.3" />
<line x1="134.30" y1="855.08" x2="141.00" y2="855.08" stroke="#161616" stroke-width="1.5" />
<line x1="134.30" y1="864.77" x2="141.00" y2="864.77" stroke="#161616" stroke-width="2.3" />
<line x1="134.30" y1="874.45" x2="141.00" y2="874.45" stroke="#161616" stroke-width="2.3" />
<line x1="131.50" y1="884.14" x2="141.00" y2="884.14" stroke="#161616" stroke-width="2.3" />
<line x1="134.30" y1="893.83" x2="141.00" y2="893.83" stroke="#161616" stroke-width="1.5" />
<line x1="134.30" y1="903.51" x2="141.00" y2="903.51" stroke="#161616" stroke-width="2.3" />
<line x1="134.30" y1="913.20" x2="141.00" y2="913.20" stroke="#161616" stroke-width="2.3" />
<line x1="134.30" y1="922.88" x2="141.00" y2="922.88" stroke="#161616" stroke-width="2.3" />
<line x1="134.30" y1="932.57" x2="141.00" y2="932.57" stroke="#161616" stroke-width="1.5" />
<line x1="134.30" y1="942.26" x2="141.00" y2="942.26" stroke="#161616" stroke-width="2.3" />
<line x1="134.30" y1="951.94" x2="141.00" y2="951.94" stroke="#161616" stroke-width="2.3" />
<line x1="134.30" y1="961.63" x2="141.00" y2="961.63" stroke="#161616" stroke-width="2.3" />
<line x1="134.30" y1="971.31" x2="141.00" y2="971.31" stroke="#161616" stroke-width="1.5" />
<line x1="131.50" y1="981.00" x2="141.00" y2="981.00" stroke="#161616" stroke-width="2.3" />
<line x1="134.30" y1="990.69" x2="141.00" y2="990.69" stroke="#161616" stroke-width="2.3" />
<line x1="134.30" y1="1000.37" x2="141.00" y2="1000.37" stroke="#161616" stroke-width="2.3" />
<line x1="134.30" y1="1010.06" x2="141.00" y2="1010.06" stroke="#161616" stroke-width="1.5" />
<line x1="134.30" y1="1019.74" x2="141.00" y2="1019.74" stroke="#161616" stroke-width="2.3" />
<line x1="134.30" y1="1029.43" x2="141.00" y2="1029.43" stroke="#161616" stroke-width="2.3" />
<line x1="134.30" y1="1039.12" x2="141.00" y2="1039.12" stroke="#161616" stroke-width="2.3" />
<line x1="134.30" y1="1048.80" x2="141.00" y2="1048.80" stroke="#161616" stroke-width="1.5" />
<line x1="134.30" y1="1058.49" x2="141.00" y2="1058.49" stroke="#161616" stroke-width="2.3" />
<line x1="134.30" y1="1068.17" x2="141.00" y2="1068.17" stroke="#161616" stroke-width="2.3" />
<line x1="131.50" y1="1077.86" x2="141.00" y2="1077.86" stroke="#161616" stroke-width="2.3" />
<line x1="130.50" y1="1080.20" x2="141.00" y2="1080.20" stroke="#101010" stroke-width="2.6" />
<text x="80.00" y="147.42" font-family="'Liberation Sans', sans-serif" font-size="12.8" fill="#3c3c3c" text-anchor="start" font-weight="normal" style="white-space:pre" textLength="50.5" lengthAdjust="spacingAndGlyphs"  stroke="#3c3c3c" stroke-width="0.35">(-740.8)</text>
<text x="82.50" y="205.42" font-family="'Liberation Sans', sans-serif" font-size="12.8" fill="#3c3c3c" text-anchor="start" font-weight="normal" style="white-space:pre" textLength="42.5" lengthAdjust="spacingAndGlyphs"  stroke="#3c3c3c" stroke-width="0.35">(-600)</text>
<text x="82.50" y="303.48" font-family="'Liberation Sans', sans-serif" font-size="12.8" fill="#3c3c3c" text-anchor="start" font-weight="normal" style="white-space:pre" textLength="42.5" lengthAdjust="spacingAndGlyphs"  stroke="#3c3c3c" stroke-width="0.35">(-400)</text>
<text x="88.50" y="403.84" font-family="'Liberation Sans', sans-serif" font-size="12.8" fill="#3c3c3c" text-anchor="start" font-weight="normal" style="white-space:pre" textLength="32.0" lengthAdjust="spacingAndGlyphs"  stroke="#3c3c3c" stroke-width="0.35">-200</text>
<circle cx="133.6" cy="397.3" r="1" fill="#303030"/>
<text x="100.00" y="499.60" font-family="'Liberation Sans', sans-serif" font-size="12.8" fill="#3c3c3c" text-anchor="start" font-weight="normal" style="white-space:pre" textLength="8.0" lengthAdjust="spacingAndGlyphs"  stroke="#3c3c3c" stroke-width="0.35">0</text>
<text x="85.00" y="597.14" font-family="'Liberation Sans', sans-serif" font-size="12.8" fill="#3c3c3c" text-anchor="start" font-weight="normal" style="white-space:pre" textLength="39.5" lengthAdjust="spacingAndGlyphs"  stroke="#3c3c3c" stroke-width="0.35">(200)</text>
<text x="85.00" y="694.68" font-family="'Liberation Sans', sans-serif" font-size="12.8" fill="#3c3c3c" text-anchor="start" font-weight="normal" style="white-space:pre" textLength="39.5" lengthAdjust="spacingAndGlyphs"  stroke="#3c3c3c" stroke-width="0.35">(400)</text>
<text x="85.00" y="791.88" font-family="'Liberation Sans', sans-serif" font-size="12.8" fill="#3c3c3c" text-anchor="start" font-weight="normal" style="white-space:pre" textLength="39.5" lengthAdjust="spacingAndGlyphs"  stroke="#3c3c3c" stroke-width="0.35">(600)</text>
<text x="85.00" y="888.74" font-family="'Liberation Sans', sans-serif" font-size="12.8" fill="#3c3c3c" text-anchor="start" font-weight="normal" style="white-space:pre" textLength="39.5" lengthAdjust="spacingAndGlyphs"  stroke="#3c3c3c" stroke-width="0.35">(800)</text>
<text x="80.00" y="985.60" font-family="'Liberation Sans', sans-serif" font-size="12.8" fill="#3c3c3c" text-anchor="start" font-weight="normal" style="white-space:pre" textLength="48.0" lengthAdjust="spacingAndGlyphs"  stroke="#3c3c3c" stroke-width="0.35">(1000)</text>
<clipPath id="clipb"><rect x="70" y="1060" width="70" height="21.5"/></clipPath>
<text x="80.00" y="1083.36" font-family="'Liberation Sans', sans-serif" font-size="13.5" fill="#3c3c3c" text-anchor="start" font-weight="normal" style="white-space:pre" textLength="48.0" lengthAdjust="spacingAndGlyphs" clip-path="url(#clipb)" stroke="#3c3c3c" stroke-width="0.35">(1200)</text>
<line x1="171.75" y1="487.50" x2="171.75" y2="642.00" stroke="#a0a0a0" stroke-width="1.4" />
<line x1="204.00" y1="487.50" x2="204.00" y2="642.00" stroke="#a4a4a4" stroke-width="1.4" />
<line x1="234.50" y1="487.50" x2="234.50" y2="642.00" stroke="#9c9c9c" stroke-width="1.4" />
<line x1="265.00" y1="487.50" x2="265.00" y2="642.00" stroke="#a0a0a0" stroke-width="1.4" />
<line x1="311.80" y1="487.50" x2="311.80" y2="552.00" stroke="#a8a8a8" stroke-width="1.4" />
<line x1="324.00" y1="487.50" x2="324.00" y2="552.00" stroke="#707070" stroke-width="1.4" />
<line x1="336.20" y1="487.50" x2="336.20" y2="552.00" stroke="#a8a8a8" stroke-width="1.4" />
<line x1="348.40" y1="487.50" x2="348.40" y2="552.00" stroke="#787878" stroke-width="1.4" />
<line x1="311.80" y1="955.00" x2="311.80" y2="1081.00" stroke="#a4a4a4" stroke-width="1.4" />
<line x1="324.00" y1="955.00" x2="324.00" y2="1081.00" stroke="#6c6c6c" stroke-width="1.4" />
<line x1="336.20" y1="955.00" x2="336.20" y2="1081.00" stroke="#a4a4a4" stroke-width="1.4" />
<line x1="348.40" y1="955.00" x2="348.40" y2="1081.00" stroke="#747474" stroke-width="1.4" />
<line x1="393.00" y1="487.50" x2="393.00" y2="642.00" stroke="#787878" stroke-width="1.4" />
<line x1="423.75" y1="487.50" x2="423.75" y2="642.00" stroke="#7c7c7c" stroke-width="1.4" />
<line x1="456.25" y1="487.50" x2="456.25" y2="642.00" stroke="#787878" stroke-width="1.4" />
<line x1="486.75" y1="487.50" x2="486.75" y2="642.00" stroke="#7c7c7c" stroke-width="1.4" />
<line x1="558.00" y1="487.50" x2="558.00" y2="1081.00" stroke="#8c8c8c" stroke-width="1.4" />
<line x1="594.50" y1="487.50" x2="594.50" y2="1081.00" stroke="#8c8c8c" stroke-width="1.4" />
<line x1="633.00" y1="487.50" x2="633.00" y2="1081.00" stroke="#8c8c8c" stroke-width="1.4" />
<line x1="672.00" y1="487.50" x2="672.00" y2="1081.00" stroke="#8c8c8c" stroke-width="1.4" />
<line x1="741.00" y1="487.50" x2="741.00" y2="642.00" stroke="#a8a8a8" stroke-width="1.4" />
<line x1="771.50" y1="487.50" x2="771.50" y2="642.00" stroke="#a8a8a8" stroke-width="1.4" />
<line x1="804.00" y1="487.50" x2="804.00" y2="642.00" stroke="#a4a4a4" stroke-width="1.4" />
<line x1="834.50" y1="487.50" x2="834.50" y2="642.00" stroke="#a8a8a8" stroke-width="1.4" />
<line x1="881.00" y1="955.00" x2="881.00" y2="1081.00" stroke="#8c8c8c" stroke-width="1.4" />
<line x1="893.50" y1="955.00" x2="893.50" y2="1081.00" stroke="#8c8c8c" stroke-width="1.4" />
<line x1="904.00" y1="955.00" x2="904.00" y2="1081.00" stroke="#8c8c8c" stroke-width="1.4" />
<line x1="918.00" y1="955.00" x2="918.00" y2="1081.00" stroke="#8c8c8c" stroke-width="1.4" />
<line x1="962.50" y1="487.50" x2="962.50" y2="642.00" stroke="#8c8c8c" stroke-width="1.4" />
<line x1="993.00" y1="487.50" x2="993.00" y2="642.00" stroke="#8c8c8c" stroke-width="1.4" />
<line x1="1025.50" y1="487.50" x2="1025.50" y2="642.00" stroke="#8c8c8c" stroke-width="1.4" />
<line x1="1056.00" y1="487.50" x2="1056.00" y2="642.00" stroke="#8c8c8c" stroke-width="1.4" />
<line x1="1127.25" y1="487.50" x2="1127.25" y2="1081.00" stroke="#8c8c8c" stroke-width="1.4" />
<line x1="1163.75" y1="487.50" x2="1163.75" y2="1081.00" stroke="#8c8c8c" stroke-width="1.4" />
<line x1="1202.50" y1="487.50" x2="1202.50" y2="1081.00" stroke="#8c8c8c" stroke-width="1.4" />
<line x1="1239.25" y1="487.50" x2="1239.25" y2="1081.00" stroke="#8c8c8c" stroke-width="1.4" />
<line x1="1310.50" y1="386.00" x2="1310.50" y2="1081.00" stroke="#a8a8a8" stroke-width="1.4" />
<line x1="1342.00" y1="386.00" x2="1342.00" y2="1081.00" stroke="#acacac" stroke-width="1.4" />
<line x1="1373.50" y1="386.00" x2="1373.50" y2="1081.00" stroke="#707070" stroke-width="1.4" />
<line x1="1404.00" y1="386.00" x2="1404.00" y2="1081.00" stroke="#7c7c7c" stroke-width="1.4" />
<line x1="1475.00" y1="490.00" x2="1475.00" y2="1081.00" stroke="#9c9c9c" stroke-width="1.4" />
<line x1="1511.75" y1="490.00" x2="1511.75" y2="1081.00" stroke="#a4a4a4" stroke-width="1.4" />
<line x1="1550.25" y1="490.00" x2="1550.25" y2="1081.00" stroke="#a4a4a4" stroke-width="1.4" />
<line x1="1589.20" y1="490.00" x2="1589.20" y2="1081.00" stroke="#a8a8a8" stroke-width="1.4" />
<g clip-path="url(#cA1)"><rect x="111" y="611" width="217" height="500.0" fill="url(#gAI)" filter="url(#wv1)"/>
<g filter="url(#lb)">
<ellipse cx="231" cy="932" rx="34" ry="3.4" fill="#0c0c90"/>
<ellipse cx="196" cy="913" rx="22" ry="2.4" fill="#1438c0"/>
<ellipse cx="208" cy="923" rx="20" ry="2.2" fill="#1030b8"/>
<ellipse cx="282" cy="935" rx="14" ry="3" fill="#1060d8"/>
<ellipse cx="220" cy="953.5" rx="44" ry="2.6" fill="#88f000"/>
<ellipse cx="286" cy="957" rx="14" ry="3" fill="#d0f000"/>
<ellipse cx="228" cy="970.5" rx="50" ry="3" fill="#78f000"/>
<ellipse cx="172" cy="971" rx="20" ry="3" fill="#20f020"/>
<ellipse cx="258" cy="1004" rx="8" ry="2.4" fill="#90f000"/>
<ellipse cx="225" cy="1003" rx="30" ry="3" fill="#18f018"/>
<ellipse cx="268" cy="1026.5" rx="8" ry="2.6" fill="#90f000"/>
<ellipse cx="222" cy="1033" rx="14" ry="2.4" fill="#20f010"/>
<ellipse cx="228" cy="1051" rx="20" ry="3" fill="#14f014"/>
<ellipse cx="250" cy="1018" rx="40" ry="3" fill="#1098e8"/>
<ellipse cx="195" cy="726" rx="22" ry="2.2" fill="#e020a8"/>
<ellipse cx="238" cy="724.5" rx="7" ry="1.8" fill="#f8a020"/>
<ellipse cx="222" cy="737.5" rx="28" ry="2.4" fill="#1010a0"/>
<ellipse cx="225" cy="744" rx="30" ry="2" fill="#a0f020"/>
<ellipse cx="248" cy="748" rx="14" ry="2" fill="#40f040"/>
<ellipse cx="230" cy="705" rx="60" ry="3" fill="#8010d0"/>
<ellipse cx="200" cy="688" rx="40" ry="2.4" fill="#3010b8"/>
</g></g>
<g clip-path="url(#cA2)"><rect x="332" y="611" width="216" height="500.0" fill="url(#gAI)" filter="url(#wv1)"/>
<g filter="url(#lb)">
<ellipse cx="432" cy="933" rx="50" ry="3.4" fill="#0c0c90"/>
<ellipse cx="500" cy="933" rx="16" ry="3" fill="#1060d8"/>
<ellipse cx="425" cy="952" rx="56" ry="2.6" fill="#80f000"/>
<ellipse cx="512" cy="962" rx="9" ry="5" fill="#d0f000"/>
<ellipse cx="430" cy="988" rx="40" ry="3" fill="#30f020"/>
<ellipse cx="420" cy="1008" rx="46" ry="3.4" fill="#28f018"/>
<ellipse cx="440" cy="1029" rx="60" ry="3.2" fill="#28f018"/>
<ellipse cx="440" cy="1018" rx="50" ry="3" fill="#1098e8"/>
<ellipse cx="460" cy="707" rx="60" ry="3" fill="#a010d8"/>
<ellipse cx="420" cy="695" rx="50" ry="2.4" fill="#3010b8"/>
<ellipse cx="440" cy="862" rx="70" ry="4" fill="#7010d0"/>
</g></g>
<g clip-path="url(#cV1)"><rect x="679" y="611" width="217" height="500.0" fill="url(#gVP)" filter="url(#wv2)"/>
<g filter="url(#lb)">
<ellipse cx="790" cy="705" rx="34" ry="2.8" fill="#0c0c90"/>
<ellipse cx="845" cy="705" rx="22" ry="2.4" fill="#1838c0"/>
<ellipse cx="770" cy="752" rx="50" ry="4" fill="#f0f000"/>
<ellipse cx="760" cy="742" rx="40" ry="3" fill="#d8f000"/>
<ellipse cx="835" cy="812" rx="26" ry="2" fill="#1860d0"/>
<ellipse cx="770" cy="690" rx="40" ry="2.6" fill="#30a0e8"/>
<ellipse cx="780" cy="716" rx="44" ry="2.6" fill="#1870d8"/>
<ellipse cx="800" cy="904" rx="70" ry="2.6" fill="#f8c800"/>
<ellipse cx="850" cy="905" rx="20" ry="2" fill="#f89000"/>
<ellipse cx="800" cy="853" rx="40" ry="2.4" fill="#1070d8"/>
<ellipse cx="840" cy="868" rx="24" ry="2.6" fill="#1070d8"/>
<ellipse cx="800" cy="985" rx="60" ry="4" fill="#20f020"/>
<ellipse cx="800" cy="1000" rx="50" ry="3" fill="#30f010"/>
</g></g>
<g clip-path="url(#cV2)"><rect x="902" y="611" width="215" height="500.0" fill="url(#gVP)" filter="url(#wv2)"/>
<g filter="url(#lb)">
<ellipse cx="1040" cy="703.5" rx="50" ry="2.8" fill="#0c0ca0"/>
<ellipse cx="1075" cy="703.5" rx="18" ry="2.6" fill="#5010c0"/>
<ellipse cx="1020" cy="717" rx="60" ry="2.2" fill="#1850d0"/>
<ellipse cx="1060" cy="691" rx="30" ry="2.4" fill="#1880e0"/>
<ellipse cx="1030" cy="754" rx="60" ry="2.6" fill="#f8d800"/>
<ellipse cx="1072" cy="752" rx="14" ry="2" fill="#f87000"/>
<ellipse cx="1000" cy="744" rx="50" ry="3" fill="#e0f000"/>
<ellipse cx="1020" cy="869" rx="80" ry="3" fill="#1078d8"/>
<ellipse cx="990" cy="856" rx="40" ry="2" fill="#1090e0"/>
<ellipse cx="990" cy="902" rx="60" ry="3" fill="#f8d000"/>
<ellipse cx="1010" cy="990" rx="60" ry="4" fill="#20f020"/>
<ellipse cx="1040" cy="1003" rx="40" ry="3" fill="#40f010"/>
</g></g>
<rect x="298.00" y="551.00" width="62.00" height="404.00" fill="url(#gW3)" />
<rect x="866.00" y="488.00" width="65.00" height="467.00" fill="url(#gW7)" />
<line x1="132.00" y1="495.00" x2="1626.50" y2="495.00" stroke="#0a0a0a" stroke-width="2.6" />
<line x1="519.00" y1="738.85" x2="708.00" y2="738.85" stroke="#0a0a0a" stroke-width="2.2" />
<line x1="1088.00" y1="738.85" x2="1626.00" y2="738.85" stroke="#0a0a0a" stroke-width="2.2" />
<line x1="298.00" y1="981.00" x2="361.00" y2="981.00" stroke="#0a0a0a" stroke-width="2.2" />
<line x1="519.00" y1="981.00" x2="708.00" y2="981.00" stroke="#0a0a0a" stroke-width="2.2" />
<line x1="866.00" y1="981.00" x2="931.00" y2="981.00" stroke="#0a0a0a" stroke-width="2.2" />
<line x1="1088.00" y1="981.00" x2="1626.00" y2="981.00" stroke="#0a0a0a" stroke-width="2.2" />
<line x1="298.00" y1="487.50" x2="298.00" y2="551.00" stroke="#0a0a0a" stroke-width="2.2" />
<line x1="298.00" y1="551.00" x2="298.00" y2="955.00" stroke="#101030" stroke-width="1.4" />
<line x1="298.00" y1="955.00" x2="298.00" y2="1081.00" stroke="#0a0a0a" stroke-width="2.6" />
<line x1="361.60" y1="487.50" x2="361.60" y2="1081.00" stroke="#1a0406" stroke-width="4.0" />
<line x1="363.40" y1="487.50" x2="363.40" y2="955.00" stroke="#4a0a10" stroke-width="1.0" />
<line x1="518.60" y1="487.50" x2="518.60" y2="1081.00" stroke="#0a0a0a" stroke-width="3.4" />
<line x1="708.60" y1="386.00" x2="708.60" y2="1081.00" stroke="#0a0a0a" stroke-width="2.6" />
<line x1="865.60" y1="488.00" x2="865.60" y2="955.00" stroke="#102010" stroke-width="1.3" />
<line x1="866.30" y1="955.00" x2="866.30" y2="1081.00" stroke="#0a0a0a" stroke-width="2.6" />
<line x1="930.80" y1="488.00" x2="930.80" y2="1081.00" stroke="#100808" stroke-width="3.4" />
<line x1="932.60" y1="488.00" x2="932.60" y2="640.00" stroke="#6a0c14" stroke-width="1.2" />
<line x1="1088.00" y1="487.50" x2="1088.00" y2="1081.00" stroke="#0a0a0a" stroke-width="3.4" />
<line x1="1278.00" y1="487.50" x2="1278.00" y2="1081.00" stroke="#0a0a0a" stroke-width="2.2" />
<line x1="1436.30" y1="386.00" x2="1436.30" y2="1081.00" stroke="#0a0a0a" stroke-width="3" />
<line x1="1625.70" y1="130.00" x2="1625.70" y2="1081.00" stroke="#0a0a0a" stroke-width="2.2" />
<path d="M575.0 640.0H578.4V642.5H588.0V645.0H587.3V647.3H576.6V649.7H576.0V652.0H580.3V654.0H578.7V656.0H588.4V658.0H590.0V660.0H578.4V662.3H579.4V664.7H570.0V667.0H565.2V669.0H569.5V671.0H562.6V673.0H565.4V675.0H560.0V677.0H549.5V679.5H545.0V682.0H554.3V684.0H555.3V686.0H562.0V688.0H559.3V690.2H548.0V692.5H544.9V694.8H538.0V697.0H541.2V699.0H553.8V701.0H556.0V703.0H550.2V705.2H556.7V707.5H547.6V709.8H548.0V712.0H553.6V714.0H549.3V716.0H561.5V718.0H560.0V720.0H556.0V722.3H556.3V724.7H552.0V727.0H598.0V724.0H591.3V726.0H593.5V728.0H585.3V730.0H585.0V732.0H592.5V734.4H592.3V736.8H604.0V739.2H606.0V741.6H598.4V743.7H602.7V745.9H594.0V748.0H588.0V750.0H595.6V752.0H591.0V754.0H584.6V756.0H591.8V758.0H580.4V760.0H583.0V762.0H586.4V764.0H580.5V766.0H586.0V768.0H581.3V770.0H583.0V772.0H589.7V774.0H592.4V776.0H575.5V778.5H569.7V780.9H556.7V783.4H560.8V785.5H571.2V787.5H576.4V789.6H566.8V791.7H569.7V793.8H558.7V795.9H554.0V798.0H567.9V800.5H580.0V803.0H585.8V805.5H596.0V808.0H580.4V810.2H555.0V812.5H575.5V815.0H606.0V817.5H588.4V819.7H565.4V821.8H550.0V824.0H558.3V826.3H560.8V828.7H570.0V831.0H563.9V833.2H554.1V835.3H547.5V837.5H592.5V841.0H574.1V843.5H546.0V846.0H550.3V848.0H562.0V850.0H566.0V852.0H563.8V854.3H571.9V856.7H570.0V859.0H560.6V861.0H562.7V863.0H552.0V865.0H547.9V867.0H552.8V869.0H547.5V871.0H560.5V873.0H577.5V875.0H573.3V877.0H560.1V879.0H556.0V881.0H556.2V883.2H548.1V885.3H549.0V887.5H595.0V891.0H605.9V893.5H610.0V896.0H610.3V898.0H617.5V900.0H600.0V903.0H595.0V905.0H593.6V907.0H580.7V909.0H580.2V911.0H573.2V913.0H569.0V915.0H582.5V917.0H584.5V919.0H595.0V921.0H593.3V923.3H582.9V925.7H580.0V928.0H578.7V930.3H571.0V932.7H570.0V935.0H582.0V937.5H590.0V940.0H584.1V942.4H587.1V944.8H581.2V947.1H582.5V949.5H610.0V952.5H655.0V956.0H632.5V957.5H627.6V960.0H617.6V962.5H612.5V965.0H622.1V967.5H623.0V970.0H630.0V972.5H624.2V974.7H609.7V976.8H606.0V979.0H613.2V981.2H610.1V983.4H616.6V985.6H613.7V987.8H620.0V990.0H620.8V992.2H614.5V994.5H615.6V996.8H612.5V999.0H620.1V1001.3H635.0V1003.7H640.0V1006.0H627.2V1008.0H617.5V1010.0H604.9V1012.5H584.0V1015.0H584.1V1017.5H592.5V1020.0H617.5V1021.0H620.7V1023.0H620.0V1025.0H620.3V1027.2H626.7V1029.5H624.2V1031.8H629.0V1034.0H628.5V1036.3H618.3V1038.7H620.0V1041.0H619.3V1043.0H612.2V1045.0H620.0V1047.0H614.0V1049.0H613.1V1051.0H622.1V1053.0H619.0V1055.0H615.1V1057.0H618.6V1059.0H612.5V1061.0H611.4V1063.5H617.5V1066.0H619.5V1068.1H615.3V1070.1H619.2V1072.2H616.5V1074.3H620.8V1076.4H615.5V1078.4H617.5V1080.5" fill="none" stroke="#181890" stroke-width="1.4" stroke-linejoin="round" stroke-linecap="round" />
<path d="M544.4 552.3H533.4V554.3H551.0V556.4H539.5V558.4H534.3V560.5H558.9V562.5H551.8V564.6H542.8V567.1H558.3V569.5H544.4V572.0H549.3V575.7H571.5V578.1H570.6V580.2H587.3V582.2H588.7V584.3H576.1V586.7H580.8V589.2H574.0V591.6H572.0V593.7H590.5V595.9H582.0V598.0H577.5V600.0H589.8V602.0H578.8V604.0H559.2V607.6H566.5V609.8H580.0V612.0H601.2V614.4H601.0V616.7H570.0V620.0H550.8V622.0H566.0V624.0H548.0V626.0H575.0V629.0H591.0V632.0H569.8V634.5H566.0V637.0H573.1V639.0H548.5V641.0H553.0V643.0H577.4V645.0H580.0V647.0H591.0V650.6H578.0V653.3H572.0V656.0H577.5V658.3H573.1V660.7H581.0V663.0H585.1V665.0H576.8V666.9H593.1V668.9H585.2V670.8H592.4V672.8H587.4V675.2H569.0V677.7H551.8V680.2H548.0V682.6H569.4V685.0H586.0V687.5H562.0V691.0H546.9V693.0H550.6V695.0H564.3V697.0H574.0V699.0H558.0V701.0H553.0V703.0H567.4V705.0H578.0V707.0H563.7V709.5H556.7V712.0H573.2V714.0H582.0V716.0H555.7V718.0H552.0V720.0H579.3V722.2H596.0V724.4H564.3V726.7H547.0V729.0H571.4V731.0H590.0V733.0H560.0V736.0H569.4V738.5H600.0V741.0H609.9V743.2H594.3V745.3H600.8V747.5H586.0V749.7H603.7V751.8H591.0V754.0H578.5V756.0H595.9V758.0H582.3V760.0H586.0V762.0H588.4V764.0H581.1V766.0H585.8V768.0H581.3V770.0H573.0V772.0H592.1V774.0H592.4V776.0H568.6V778.5H575.8V780.9H556.7V783.4H559.0V785.5H577.7V787.5H576.4V789.6H564.4V791.7H571.3V793.8H557.2V795.9H554.0V798.0H569.1V800.5H580.0V803.0H577.6V805.5H596.0V808.0H584.8V810.2H555.0V812.5H569.3V815.0H600.0V817.5H586.2V819.7H560.4V821.8H550.0V824.0H567.1V826.3H558.5V828.7H570.0V831.0H574.5V833.2H544.5V835.3H547.5V837.5H592.5V841.0H576.0V843.5H546.0V846.0H546.0V848.0H564.1V850.0H566.0V852.0H564.0V854.3H574.3V856.7H570.0V859.0H552.4V861.0H566.2V863.0H552.0V865.0H545.2V867.0H551.7V869.0H547.5V871.0H552.7V873.0H577.5V875.0H575.8V877.0H553.3V879.0H556.0V881.0H562.6V883.2H542.8V885.3H549.0V887.5H595.0V891.0H602.3V893.3H587.0V895.7H590.0V898.0H601.3V900.3H584.5V902.7H595.0V905.0H598.9V907.5H580.0V910.0H574.3V912.2H585.9V914.4H578.6V916.6H592.4V918.8H590.0V921.0H582.2V923.2H597.6V925.5H577.8V927.8H585.0V930.0H593.3V932.0H582.6V934.0H603.3V936.0H586.8V938.0H600.0V940.0H615.4V942.0H610.0V944.0H596.2V946.0H600.0V948.0H616.6V950.2H610.0V952.5" fill="none" stroke="#a81018" stroke-width="1.5" stroke-linejoin="round" stroke-linecap="round" />
<path d="M1153.8 496.3L1162.5 555.0L1166.0 577.5L1167.5 655.0L1168.0 712.5L1171.0 737.5L1174.5 752.0L1172.5 765.0L1171.0 779.0L1168.0 861.0L1170.0 897.6L1170.0 934.0L1170.0 1080.5" fill="none" stroke="#2c7a34" stroke-width="1.5" stroke-linejoin="round" stroke-linecap="round" />
<path d="M1205.0 660.0H1198.9V662.0H1205.9V664.0H1198.0V666.0H1198.0V668.0H1205.0V670.0H1203.8V672.0H1195.5V674.0H1196.0V676.0H1192.9V678.5H1180.0V681.0H1170.9V683.3H1168.0V685.7H1160.0V688.0H1148.6V690.2H1146.0V692.5H1160.2V695.0H1162.5V697.5H1150.8V699.6H1151.5V701.8H1138.3V703.9H1132.5V706.0H1147.8V708.2H1154.6V710.3H1167.5V712.5H1162.5V714.7H1152.1V716.8H1146.0V719.0H1168.6V721.5H1185.0V724.0H1171.5V726.5H1165.0V729.0H1200.0V732.0H1222.5V735.0H1227.7V737.0H1224.2V739.0H1234.5V741.0H1224.5V743.0H1232.5V745.0H1231.2V747.0H1218.3V749.0H1215.0V751.0H1229.4V753.5H1239.0V756.0H1222.7V758.0H1216.0V760.0H1223.0V762.0H1216.7V764.0H1227.2V766.0H1218.0V768.0H1225.0V770.0H1221.7V772.0H1209.0V774.0H1212.5V776.0H1204.0V778.0H1192.6V780.0H1188.3V782.0H1174.4V784.0H1170.0V786.0H1180.6V788.3H1185.3V790.7H1195.0V793.0H1183.3V795.5H1160.0V798.0H1168.5V800.0H1182.2V802.0H1188.6V804.0H1200.0V806.0H1193.3V808.0H1174.9V810.0H1165.0V812.0H1181.5V814.0H1189.8V816.0H1205.0V818.0H1191.6V820.0H1170.8V822.0H1160.0V824.0H1173.0V826.3H1178.0V828.7H1190.0V831.0H1185.9V833.0H1165.0V835.0H1160.0V837.0H1182.9V839.0H1195.0V841.0H1174.6V843.5H1160.0V846.0H1159.7V848.5H1149.7V851.1H1146.7V853.6H1158.8V856.1H1164.7V858.5H1177.0V861.0H1166.9V863.3H1149.3V865.7H1139.0V868.0H1163.4V870.5H1185.0V873.0H1176.2V875.0H1175.6V877.0H1165.0V879.0H1156.8V881.0H1160.8V883.0H1150.0V885.0H1190.6V888.5H1208.8V890.8H1237.6V893.0H1228.0V895.0H1215.0V897.0H1218.3V899.0H1233.8V901.0H1240.0V903.0H1230.3V905.5H1230.0V908.0H1216.9V910.5H1200.0V913.0H1189.6V915.5H1190.0V918.0H1225.5V921.8H1230.0V925.5H1201.0V929.0H1201.5V931.0H1188.2V933.0H1185.0V935.0H1183.9V937.3H1173.2V939.7H1175.0V942.0H1174.0V944.3H1166.4V946.7H1164.8V949.0H1174.5V951.3H1179.5V953.7H1190.0V956.0H1198.0V958.0H1191.5V960.0H1200.6V962.0H1201.0V964.0H1196.8V966.0H1197.5V968.0H1192.0V970.0H1192.0V972.0H1192.1V974.2H1188.0V976.5H1191.5V978.8H1187.6V981.0H1190.3V983.1H1198.8V985.2H1194.9V987.3H1210.5V989.4H1208.8V991.5H1198.8V993.5H1201.5V995.6H1192.0V997.6H1195.1V999.9H1201.4V1002.2H1199.1V1004.4H1208.8V1006.7H1207.8V1009.0H1194.1V1011.4H1192.5V1013.7H1181.5V1016.0H1181.7V1018.2H1193.8V1020.5H1190.1V1022.8H1201.0V1025.0H1203.4V1027.2H1193.8V1029.5H1202.7V1031.8H1196.0V1034.0H1191.3V1036.2H1200.4V1038.5H1189.7V1040.8H1195.0V1043.0H1199.9V1045.0H1190.5V1047.0H1201.8V1049.0H1194.0V1051.0H1202.4V1053.0H1198.0V1055.0H1194.4V1057.0H1202.5V1059.0H1195.7V1061.0H1202.6V1063.0H1194.9V1065.0H1200.4V1067.0H1195.2V1069.0H1205.5V1071.0H1199.7V1073.0H1195.2V1075.5H1202.8V1078.0H1200.0V1080.5" fill="none" stroke="#181890" stroke-width="1.4" stroke-linejoin="round" stroke-linecap="round" />
<path d="M1090.0 561.0H1210.0V564.0H1216.0V566.0H1090.0V567.5H1099.0V569.5H1090.0V572.0H1090.0V575.0H1235.0V577.5H1167.5V580.0H1202.5V582.5H1150.0V585.0H1129.0V588.0H1209.0V589.0H1160.0V592.0H1142.5V595.0H1194.0V597.5H1177.4V600.0H1180.0V602.5H1160.0V605.0H1146.0V608.0H1191.2V610.2H1209.0V612.5H1209.2V614.8H1234.0V617.0H1222.1V619.0H1202.5V621.0H1171.7V623.2H1152.5V625.5H1195.0V628.0H1217.5V631.0H1200.5V633.5H1164.0V636.0H1177.1V638.0H1207.5V640.0H1188.6V642.5H1164.0V645.0H1179.8V647.5H1216.0V650.0H1207.6V652.5H1187.5V655.0H1194.3V657.0H1216.0V659.0H1219.6V661.5H1200.0V664.0H1206.0V666.0H1222.0V668.0H1231.3V670.2H1224.0V672.5H1197.5V676.0H1162.0V678.0H1137.5V680.0H1169.3V682.8H1194.0V685.5H1164.6V687.8H1157.5V690.0H1174.2V692.0H1175.0V694.0H1152.4V696.0H1150.0V698.0H1167.9V700.0H1168.0V702.0H1152.2V704.0H1148.0V706.0H1165.7V708.0H1165.0V710.0H1150.0V712.5H1150.0V715.0H1168.3V717.5H1160.0V720.0H1172.0V722.2H1204.0V724.5H1189.9V726.8H1155.0V729.0H1195.0V730.0H1196.9V732.5H1222.5V735.0H1222.9V737.5H1210.0V740.0H1216.9V742.2H1228.5V744.5H1228.1V747.0H1216.0V749.5H1215.0V752.0H1233.7V754.0H1230.0V756.0H1218.0V758.5H1216.0V761.0H1230.7V763.2H1217.4V765.5H1230.2V767.8H1225.0V770.0H1207.1V772.0H1226.3V774.0H1196.9V776.0H1204.0V778.0H1198.0V780.0H1171.6V782.0H1165.0V784.0H1187.5V786.0H1179.1V788.0H1196.2V790.0H1201.0V792.0H1172.6V794.8H1154.0V797.6H1181.1V799.8H1190.0V802.0H1197.2V804.0H1215.8V806.0H1218.0V808.0H1178.1V810.4H1155.8V812.7H1195.7V814.9H1215.0V817.0H1183.8V819.0H1181.6V821.0H1149.7V823.0H1147.9V825.0H1183.0V827.0H1170.1V829.0H1193.6V831.0H1187.2V833.0H1160.4V835.0H1154.0V837.0H1197.1V839.0H1221.0V841.0H1148.0V844.5H1156.9V846.8H1175.0V849.0H1176.1V851.3H1162.3V853.7H1160.0V856.0H1167.9V858.0H1164.7V860.0H1172.0V862.0H1172.1V864.0H1154.8V866.0H1165.0V868.0H1184.7V870.5H1196.7V873.0H1178.8V875.0H1179.9V877.0H1161.8V879.0H1144.6V881.3H1165.7V883.7H1146.7V886.0H1190.6V888.5H1204.7V890.8H1225.0V893.0H1220.3V894.9H1198.0V896.8H1204.3V898.7H1181.5V900.6H1210.5V902.9H1257.6V905.3H1275.5V907.6H1200.0V910.0H1162.4V912.0H1142.0V914.0H1179.4V916.0H1200.0V918.0H1225.5V921.8H1206.9V924.2H1214.4V926.6H1201.0V929.0H1186.4V931.5H1180.0V934.0H1176.3V936.2H1155.8V938.5H1176.9V940.5H1210.0V942.4H1180.0V946.0H1164.8V949.0" fill="none" stroke="#a81018" stroke-width="1.6" stroke-linejoin="round" stroke-linecap="round" />
<path d="M1302 495.5V551" fill="none" stroke="#1c1c1c" stroke-width="1.3" stroke-linejoin="round" stroke-linecap="round" />
<path d="M1302.0 551.0H1294.8V553.2H1302.8V555.5H1296.0V557.7H1303.0V561.0H1296.0V563.0H1309.5V565.7H1308.2V567.8H1319.2V569.9H1318.0V572.0H1319.8V574.3H1327.1V576.7H1326.7V579.0H1329.2V580.8H1340.4V582.6H1336.1V584.4H1344.9V586.2H1346.4V588.0H1325.6V590.5H1318.8V593.0H1330.7V595.5H1330.0V598.0H1331.0V600.2H1334.6V602.5H1349.0V606.0H1337.6V608.3H1316.0V610.7H1309.5V613.0H1338.5V615.3H1363.6V617.6H1320.0V621.0H1306.9V623.0H1307.0V625.0H1327.1V627.5H1338.5V630.0H1321.3V632.0H1312.0V634.0H1317.3V636.0H1320.0V638.0H1309.1V640.7H1303.0V643.4H1328.3V646.0H1349.0V648.7H1326.8V651.4H1317.4V654.0H1336.8V656.0H1345.0V658.0H1345.6V660.0H1357.0V662.0H1354.3V664.5H1343.8V667.0H1347.2V669.0H1355.0V671.0H1364.8V673.0H1362.0V675.0H1327.3V677.5H1299.0V680.0H1320.7V681.9H1328.7V683.7H1354.0V685.6H1310.0V689.0H1296.0V692.0H1314.7V694.0H1322.7V696.0H1309.8V698.0H1305.0V700.0H1305.1V702.0H1291.1V704.0H1292.4V706.0H1311.6V708.3H1317.1V710.7H1336.0V713.0H1304.0V716.0H1324.1V718.5H1340.0V721.0H1341.9V723.3H1357.0V725.6H1300.0V729.0H1334.7V731.5H1363.6V734.0H1364.8V736.3H1374.8V738.7H1371.5V741.0H1355.7V743.0H1346.4V745.0H1360.1V747.0H1363.6V749.0H1351.9V750.9H1357.2V752.9H1341.8V754.8H1343.8V756.7H1349.4V758.8H1339.6V760.8H1350.9V762.9H1344.7V764.9H1349.0V767.0H1351.3V769.0H1341.0V771.0H1351.5V773.0H1365.0V775.0H1358.5V777.0H1340.6V779.0H1317.8V781.0H1307.0V783.0H1318.6V785.0H1325.0V787.0H1329.8V788.8H1341.7V790.6H1307.0V793.7H1317.4V795.9H1321.6V798.0H1311.2V800.0H1320.0V802.0H1311.0V804.0H1359.6V807.0H1326.5V809.3H1307.0V811.6H1340.8V814.3H1363.8V817.0H1337.1V819.0H1315.0V821.0H1316.7V823.2H1300.5V825.3H1302.7V827.5H1323.7V829.8H1337.5V832.0H1313.4V834.5H1301.6V837.0H1356.4V840.0H1370.0V842.0H1315.0V844.0H1301.6V847.5H1320.6V851.0H1301.6V853.8H1314.4V856.2H1324.8V858.7H1309.9V860.9H1304.8V863.0H1312.9V865.0H1312.0V867.0H1301.8V869.4H1298.5V871.7H1340.6V875.0H1329.8V877.0H1313.7V879.0H1302.7V881.0H1320.0V884.0H1316.1V886.0H1304.8V888.0H1338.5V890.7H1360.6V892.4H1367.2V894.2H1377.5V896.0H1395.4V898.7H1377.5V901.0H1374.9V902.8H1365.6V904.7H1362.7V906.5H1362.8V908.8H1356.4V911.0H1342.6V913.0H1337.5V915.0H1350.5V917.5H1353.0V920.0H1339.7V922.2H1343.4V924.3H1330.0V926.5H1353.0V929.7H1338.6V931.9H1327.0V934.0H1337.5V936.0H1343.8V938.0H1348.6V940.1H1363.8V942.3H1366.0V944.4H1356.7V947.0H1350.0V949.7H1351.0V952.0H1422.8V954.0" fill="none" stroke="#0a0a0a" stroke-width="2.0" stroke-linejoin="round" stroke-linecap="round" />
<path d="M1463.6 496.0C1463.8 499.3 1465.6 510.0 1465.0 516.0C1464.4 522.0 1461.9 526.7 1460.0 532.0C1458.1 537.3 1453.0 543.2 1453.5 548.0C1454.0 552.8 1457.4 557.2 1462.8 561.0C1468.2 564.8 1477.8 567.8 1486.0 571.0C1494.2 574.2 1504.7 577.2 1512.0 580.0C1519.3 582.8 1526.0 585.1 1530.0 588.0C1534.0 590.9 1535.8 594.3 1536.0 597.5C1536.2 600.7 1533.3 604.1 1531.0 607.0C1528.7 609.9 1525.7 612.3 1522.0 615.0C1518.3 617.7 1512.2 620.3 1509.0 623.0C1505.8 625.7 1503.2 628.3 1503.0 631.0C1502.8 633.7 1505.0 636.4 1508.0 639.0C1511.0 641.6 1516.2 644.2 1520.7 646.7C1525.2 649.2 1531.4 651.4 1535.0 654.0C1538.6 656.6 1541.6 660.1 1542.4 662.6C1543.2 665.1 1541.7 666.8 1540.0 669.0C1538.3 671.2 1536.7 673.5 1532.0 675.7C1527.3 677.9 1518.7 680.1 1512.0 682.0C1505.3 683.9 1498.0 685.0 1491.7 687.0C1485.4 689.0 1478.1 691.3 1474.0 694.0C1469.9 696.7 1467.7 700.3 1467.0 703.0C1466.3 705.7 1467.8 707.8 1470.0 710.0C1472.2 712.2 1475.0 714.0 1480.0 716.0C1485.0 718.0 1493.2 720.0 1500.0 722.0C1506.8 724.0 1513.7 725.8 1520.7 727.8C1527.7 729.8 1535.3 731.8 1542.0 734.0C1548.7 736.2 1556.2 739.0 1561.0 741.0C1565.8 743.0 1568.9 744.1 1571.0 746.0C1573.1 747.9 1573.6 750.4 1573.4 752.4C1573.2 754.4 1572.1 756.1 1570.0 758.0C1567.9 759.9 1566.0 761.7 1561.0 764.0C1556.0 766.3 1546.7 769.1 1540.0 772.0C1533.3 774.9 1526.0 778.6 1520.7 781.4C1515.4 784.2 1510.8 786.4 1508.0 789.0C1505.2 791.6 1504.2 793.8 1504.0 797.0C1503.8 800.2 1505.7 804.0 1507.0 808.0C1508.3 812.0 1511.8 817.5 1512.0 821.0C1512.2 824.5 1510.1 826.4 1508.0 829.0C1505.9 831.6 1503.1 833.9 1499.6 836.7C1496.1 839.5 1490.4 842.6 1487.0 846.0C1483.6 849.4 1479.8 854.0 1479.0 857.0C1478.2 860.0 1480.2 861.7 1482.0 864.0C1483.8 866.3 1485.8 868.7 1490.0 871.0C1494.2 873.3 1500.7 875.6 1507.0 878.0C1513.3 880.4 1521.7 883.1 1528.0 885.6C1534.3 888.1 1540.3 890.4 1545.0 893.0C1549.7 895.6 1553.8 898.3 1556.0 901.0C1558.2 903.7 1558.0 905.5 1558.0 909.0C1558.0 912.5 1555.7 918.7 1556.0 922.0C1556.3 925.3 1557.8 926.9 1560.0 929.0C1562.2 931.1 1564.0 932.0 1569.0 934.5C1574.0 937.0 1582.9 940.9 1590.0 944.0C1597.1 947.1 1607.9 951.5 1611.5 953.0" fill="none" stroke="#0c0c0c" stroke-width="1.8" stroke-linejoin="round" stroke-linecap="round" />
<path d="M308.0 552.0L307.6 554.7L308.5 557.3L308.0 560.0L308.1 563.0L310.0 566.0L309.8 569.0L307.0 572.0L315.0 576.0L316.4 579.0L319.0 582.0L318.5 585.0L317.0 588.0L317.8 591.0L320.0 594.0L319.5 597.0L316.0 600.0L314.4 603.0L314.0 606.0L318.0 610.0L322.9 612.5L325.0 615.0L321.7 617.5L321.0 620.0L316.6 622.5L311.0 625.0L308.9 628.5L309.0 632.0L316.0 636.0L313.5 639.0L309.0 642.0L312.0 644.5L317.0 647.0L320.8 650.0L321.0 653.0L318.5 655.5L317.0 658.0L318.9 661.0L320.0 664.0L319.3 667.0L322.0 670.0L320.9 673.0L318.0 676.0L309.0 680.0L308.6 682.5L310.3 685.0L308.9 687.5L310.0 690.0L311.2 692.5L308.3 695.0L309.2 697.5L308.0 700.0L307.3 702.5L310.1 705.0L307.8 707.5L310.0 710.0L311.3 712.5L308.6 715.0L309.9 717.5L309.0 720.0L313.0 724.0L309.9 726.5L310.0 729.0L320.0 733.0L322.2 735.4L320.4 737.8L322.6 740.2L320.0 742.6L322.0 745.0L323.1 747.5L321.0 750.0L323.0 752.5L319.9 755.0L321.8 757.5L321.0 760.0L319.9 762.5L322.0 765.0L321.1 767.5L322.5 770.0L321.0 772.5L322.0 775.0L321.4 778.0L319.0 781.0L315.7 783.5L315.0 786.0L321.0 790.0L319.1 792.5L314.0 795.0L314.3 798.5L318.0 802.0L317.8 805.0L314.0 808.0L315.7 810.5L321.0 813.0L323.0 816.0L322.0 819.0L317.2 822.0L314.0 825.0L317.6 827.5L320.0 830.0L315.2 833.0L313.0 836.0L316.6 839.0L318.0 842.0L314.7 844.7L314.5 847.3L312.0 850.0L311.9 852.5L314.7 855.0L312.3 857.5L314.0 860.0L314.9 862.5L312.5 865.0L313.4 867.5L312.0 870.0L313.3 873.0L318.0 876.0L316.8 879.0L313.0 882.0L312.7 885.0L316.0 888.0L320.6 890.5L324.0 893.0L321.5 896.5L321.0 900.0L323.2 902.7L321.3 905.3L323.0 908.0L323.5 910.7L319.8 913.3L320.0 916.0L320.8 918.5L320.0 921.0L322.5 923.5L321.0 926.0L319.0 929.0L318.0 932.0L321.6 934.5L324.0 937.0L324.2 940.5L326.0 944.0L328.9 947.5L329.0 951.0" fill="none" stroke="#0c0c14" stroke-width="1.9" stroke-linejoin="round" stroke-linecap="round" />
<path d="M866.0 564.5L888.0 565.0L895.0 566.5L908.0 565.5L910.0 564.0L930.0 564.5" fill="none" stroke="#101010" stroke-width="1.6" stroke-linejoin="round" stroke-linecap="round" />
<path d="M917.0 575.0L903.9 577.5L893.0 580.0L907.0 584.0L884.0 588.0L905.0 592.0L898.3 594.5L890.0 597.0L893.8 599.5L899.0 602.0L900.0 604.5L897.0 607.0L887.0 608.0L903.0 612.0L908.0 615.0L916.0 618.0L907.7 621.0L896.0 624.0L890.0 628.0L895.6 630.5L904.0 633.0L899.6 635.5L893.0 638.0L899.8 640.5L910.0 643.0L905.0 645.5L897.0 648.0L900.7 650.5L908.0 653.0L906.1 655.5L901.0 658.0L904.6 661.0L912.0 664.0L913.5 666.7L912.0 669.3L913.0 672.0L909.7 674.5L905.0 677.0L884.0 680.0L888.3 682.5L896.0 685.0L893.7 687.5L890.0 690.0L888.9 692.5L892.5 695.0L891.0 697.5L892.0 700.0L891.8 703.0L888.0 706.0L889.0 709.0L891.0 712.0L892.0 715.0L889.0 718.0L889.1 721.0L893.0 724.0L905.0 727.0L891.0 730.0L897.8 732.5L903.0 735.0L906.3 738.0L913.0 741.0L914.6 743.7L912.1 746.4L914.2 749.1L911.8 751.9L914.3 754.6L910.5 757.3L912.0 760.0L914.3 762.6L911.8 765.1L913.4 767.7L911.0 770.3L914.2 772.9L912.1 775.4L913.0 778.0L911.0 780.5L905.0 783.0L898.6 785.5L896.0 788.0L901.5 790.5L905.0 793.0L893.0 797.0L904.0 801.0L898.3 803.5L894.0 806.0L901.6 808.5L906.0 811.0L895.0 815.0L898.8 817.5L905.0 820.0L900.1 822.5L892.0 825.0L895.7 827.5L902.0 830.0L898.1 832.5L892.0 835.0L894.5 838.5L898.0 842.0L897.0 844.7L893.4 847.3L893.0 850.0L896.1 852.7L894.5 855.3L897.0 858.0L897.4 860.7L892.9 863.3L893.0 866.0L897.0 869.0L897.0 872.0L903.0 876.0L892.0 880.0L897.0 884.0L890.0 888.0L910.0 891.0L910.9 893.5L915.0 896.0L900.0 900.0L904.0 903.0L927.0 906.0L890.0 909.0L905.0 913.0L911.5 916.0L916.0 919.0L908.8 922.0L903.0 925.0L905.6 927.5L907.0 930.0L896.0 934.0L908.0 938.0L897.0 942.0L906.0 946.0L899.0 950.0L902.0 954.0" fill="none" stroke="#0a0a0a" stroke-width="2.1" stroke-linejoin="round" stroke-linecap="round" />
<rect x="143.00" y="350.00" width="564.00" height="133.00" fill="#ffffff" />
<rect x="710.00" y="350.00" width="595.00" height="133.00" fill="#ffffff" />
<text x="419.20" y="389.80" font-family="'Liberation Serif', sans-serif" font-size="33.2" fill="#0c0c0c" text-anchor="middle" font-weight="normal" style="white-space:pre" textLength="456.0" lengthAdjust="spacingAndGlyphs"  stroke="#0c0c0c" stroke-width="0.85">Сходимость AI синтетической и</text>
<text x="418.50" y="446.80" font-family="'Liberation Serif', sans-serif" font-size="33.2" fill="#0c0c0c" text-anchor="middle" font-weight="normal" style="white-space:pre" textLength="333.0" lengthAdjust="spacingAndGlyphs"  stroke="#0c0c0c" stroke-width="0.85">реальной сейсмотрассы</text>
<text x="995.20" y="389.80" font-family="'Liberation Serif', sans-serif" font-size="33.2" fill="#0c0c0c" text-anchor="middle" font-weight="normal" style="white-space:pre" textLength="508.5" lengthAdjust="spacingAndGlyphs"  stroke="#0c0c0c" stroke-width="0.85">Сходимость Vp/Vs синтетической и</text>
<text x="994.60" y="447.20" font-family="'Liberation Serif', sans-serif" font-size="33.2" fill="#0c0c0c" text-anchor="middle" font-weight="normal" style="white-space:pre" textLength="334.0" lengthAdjust="spacingAndGlyphs"  stroke="#0c0c0c" stroke-width="0.85">реальной сейсмотрассы</text>
<text x="1530.70" y="433.00" font-family="'Liberation Serif', sans-serif" font-size="39.6" fill="#0c0c0c" text-anchor="middle" font-weight="normal" style="white-space:pre" textLength="89.5" lengthAdjust="spacingAndGlyphs"  stroke="#0c0c0c" stroke-width="0.8">НЧМ</text>
</svg>
</body>
</html>
